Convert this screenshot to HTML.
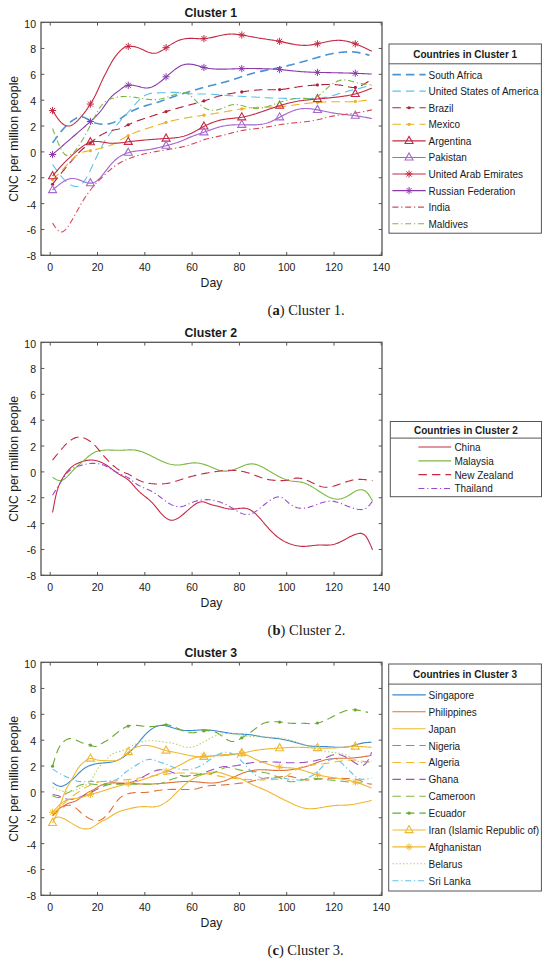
<!DOCTYPE html>
<html><head><meta charset="utf-8"><style>
html,body{margin:0;padding:0;background:#fff;}
svg{display:block;}
.s{font-family:"Liberation Sans",sans-serif;fill:#1a1a1a;}
.r{font-family:"Liberation Serif",serif;fill:#1a1a1a;}
</style></head><body>
<svg width="550" height="962" viewBox="0 0 550 962">
<defs><clipPath id="clip0"><rect x="41.0" y="22.3" width="341.0" height="233.0"/></clipPath><clipPath id="clip1"><rect x="41.0" y="342.3" width="341.0" height="233.0"/></clipPath><clipPath id="clip2"><rect x="41.0" y="662.3" width="341.0" height="233.0"/></clipPath></defs>
<rect width="550" height="962" fill="#fff"/>
<g clip-path="url(#clip0)">
<path d="M52.57,142.85 53.75,141.22 54.93,139.60 56.11,138.00 57.30,136.41 58.48,134.85 59.66,133.33 60.84,131.85 62.03,130.41 63.21,129.04 64.39,127.72 65.57,126.47 66.75,125.29 67.94,124.18 69.12,123.13 70.30,122.15 71.49,121.23 72.67,120.37 73.85,119.58 75.03,118.84 76.22,118.18 77.40,117.63 78.58,117.21 79.76,116.93 80.95,116.81 82.13,116.89 83.31,117.17 84.49,117.60 85.68,118.16 86.86,118.81 88.04,119.50 89.22,120.20 90.41,120.87 91.59,121.48 92.77,122.02 93.95,122.50 95.14,122.92 96.32,123.27 97.50,123.57 98.68,123.81 99.87,124.00 101.05,124.14 102.23,124.23 103.41,124.27 104.59,124.26 105.78,124.20 106.96,124.08 108.14,123.91 109.33,123.69 110.51,123.40 111.69,123.05 112.87,122.64 114.06,122.16 115.24,121.62 116.42,121.01 117.60,120.35 118.79,119.65 119.97,118.90 121.15,118.12 122.33,117.32 123.52,116.49 124.70,115.66 125.88,114.83 127.06,114.02 128.25,113.24 129.43,112.51 130.61,111.82 131.79,111.17 132.98,110.56 134.16,109.99 135.34,109.45 136.52,108.94 137.71,108.46 138.89,108.00 140.07,107.56 141.25,107.15 142.44,106.75 143.62,106.36 144.80,105.99 145.98,105.62 147.17,105.27 148.35,104.92 149.53,104.57 150.71,104.23 151.90,103.89 153.08,103.55 154.26,103.21 155.44,102.86 156.62,102.51 157.81,102.15 158.99,101.78 160.17,101.40 161.36,101.00 162.54,100.60 163.72,100.19 164.90,99.78 166.09,99.35 167.27,98.93 168.45,98.50 169.63,98.07 170.81,97.64 172.00,97.22 173.18,96.80 174.36,96.38 175.55,95.97 176.73,95.58 177.91,95.19 179.09,94.81 180.28,94.43 181.46,94.07 182.64,93.71 183.82,93.35 185.00,92.99 186.19,92.64 187.37,92.29 188.55,91.94 189.74,91.59 190.92,91.23 192.10,90.87 193.28,90.52 194.47,90.16 195.65,89.80 196.83,89.44 198.01,89.09 199.19,88.74 200.38,88.39 201.56,88.05 202.74,87.71 203.93,87.38 205.11,87.06 206.29,86.74 207.47,86.43 208.66,86.13 209.84,85.83 211.02,85.53 212.20,85.24 213.38,84.95 214.57,84.66 215.75,84.37 216.93,84.07 218.12,83.78 219.30,83.49 220.48,83.19 221.66,82.89 222.85,82.58 224.03,82.27 225.21,81.95 226.39,81.62 227.58,81.28 228.76,80.94 229.94,80.58 231.12,80.22 232.31,79.85 233.49,79.46 234.67,79.08 235.85,78.68 237.04,78.29 238.22,77.89 239.40,77.49 240.58,77.09 241.77,76.69 242.95,76.29 244.13,75.90 245.31,75.52 246.50,75.14 247.68,74.77 248.86,74.41 250.04,74.06 251.23,73.72 252.41,73.40 253.59,73.08 254.77,72.78 255.96,72.48 257.14,72.20 258.32,71.92 259.50,71.65 260.69,71.39 261.87,71.13 263.05,70.88 264.23,70.63 265.42,70.39 266.60,70.15 267.78,69.91 268.96,69.67 270.15,69.44 271.33,69.20 272.51,68.97 273.69,68.73 274.88,68.50 276.06,68.26 277.24,68.01 278.42,67.77 279.61,67.52 280.79,67.26 281.97,67.00 283.15,66.74 284.34,66.47 285.52,66.19 286.70,65.91 287.88,65.63 289.06,65.34 290.25,65.05 291.43,64.75 292.61,64.45 293.80,64.14 294.98,63.83 296.16,63.52 297.34,63.21 298.53,62.89 299.71,62.57 300.89,62.24 302.07,61.91 303.26,61.58 304.44,61.25 305.62,60.91 306.80,60.57 307.99,60.23 309.17,59.89 310.35,59.55 311.53,59.20 312.72,58.85 313.90,58.51 315.08,58.16 316.26,57.81 317.44,57.46 318.63,57.11 319.81,56.77 320.99,56.43 322.18,56.10 323.36,55.77 324.54,55.45 325.72,55.14 326.91,54.84 328.09,54.55 329.27,54.28 330.45,54.02 331.63,53.77 332.82,53.54 334.00,53.32 335.18,53.12 336.37,52.93 337.55,52.75 338.73,52.59 339.91,52.44 341.10,52.31 342.28,52.19 343.46,52.08 344.64,51.99 345.82,51.91 347.01,51.85 348.19,51.81 349.37,51.79 350.56,51.79 351.74,51.82 352.92,51.88 354.10,51.96 355.29,52.08 356.47,52.23 357.65,52.41 358.83,52.62 360.02,52.86 361.20,53.12 362.38,53.39 363.56,53.69 364.75,54.00 365.93,54.32 367.11,54.64 368.29,54.98 369.48,55.31" fill="none" stroke="#4a94d4" stroke-width="1.6" stroke-dasharray="8.5 5" stroke-linejoin="round"/>
<path d="M52.57,164.44 53.75,166.14 54.93,167.84 56.11,169.51 57.30,171.15 58.48,172.75 59.66,174.30 60.84,175.79 62.03,177.21 63.21,178.55 64.39,179.81 65.57,180.97 66.75,182.04 67.94,183.00 69.12,183.86 70.30,184.62 71.49,185.25 72.67,185.77 73.85,186.16 75.03,186.43 76.22,186.53 77.40,186.46 78.58,186.18 79.76,185.66 80.95,184.87 82.13,183.81 83.31,182.47 84.49,180.89 85.68,179.09 86.86,177.09 88.04,174.92 89.22,172.59 90.41,170.13 91.59,167.58 92.77,164.99 93.95,162.40 95.14,159.86 96.32,157.39 97.50,155.02 98.68,152.72 99.87,150.44 101.05,148.15 102.23,145.84 103.41,143.57 104.59,141.43 105.78,139.48 106.96,137.70 108.14,136.06 109.33,134.51 110.51,133.01 111.69,131.52 112.87,130.02 114.06,128.52 115.24,127.02 116.42,125.54 117.60,124.08 118.79,122.65 119.97,121.26 121.15,119.91 122.33,118.59 123.52,117.31 124.70,116.04 125.88,114.77 127.06,113.51 128.25,112.23 129.43,110.92 130.61,109.59 131.79,108.23 132.98,106.85 134.16,105.47 135.34,104.11 136.52,102.78 137.71,101.49 138.89,100.26 140.07,99.11 141.25,98.04 142.44,97.08 143.62,96.24 144.80,95.51 145.98,94.90 147.17,94.40 148.35,93.98 149.53,93.65 150.71,93.39 151.90,93.20 153.08,93.06 154.26,92.97 155.44,92.90 156.62,92.87 157.81,92.84 158.99,92.83 160.17,92.80 161.36,92.77 162.54,92.73 163.72,92.68 164.90,92.62 166.09,92.57 167.27,92.51 168.45,92.46 169.63,92.42 170.81,92.38 172.00,92.36 173.18,92.35 174.36,92.36 175.55,92.38 176.73,92.43 177.91,92.51 179.09,92.60 180.28,92.71 181.46,92.84 182.64,92.97 183.82,93.10 185.00,93.24 186.19,93.37 187.37,93.49 188.55,93.60 189.74,93.70 190.92,93.78 192.10,93.83 193.28,93.88 194.47,93.91 195.65,93.93 196.83,93.94 198.01,93.94 199.19,93.94 200.38,93.95 201.56,93.95 202.74,93.96 203.93,93.97 205.11,94.00 206.29,94.03 207.47,94.07 208.66,94.12 209.84,94.18 211.02,94.25 212.20,94.32 213.38,94.39 214.57,94.47 215.75,94.56 216.93,94.64 218.12,94.73 219.30,94.83 220.48,94.92 221.66,95.02 222.85,95.12 224.03,95.21 225.21,95.31 226.39,95.40 227.58,95.49 228.76,95.58 229.94,95.67 231.12,95.75 232.31,95.83 233.49,95.91 234.67,95.99 235.85,96.06 237.04,96.13 238.22,96.19 239.40,96.26 240.58,96.32 241.77,96.39 242.95,96.45 244.13,96.51 245.31,96.57 246.50,96.63 247.68,96.69 248.86,96.76 250.04,96.82 251.23,96.88 252.41,96.95 253.59,97.01 254.77,97.07 255.96,97.14 257.14,97.21 258.32,97.27 259.50,97.34 260.69,97.40 261.87,97.46 263.05,97.53 264.23,97.59 265.42,97.65 266.60,97.71 267.78,97.77 268.96,97.83 270.15,97.88 271.33,97.93 272.51,97.98 273.69,98.03 274.88,98.08 276.06,98.12 277.24,98.16 278.42,98.20 279.61,98.23 280.79,98.27 281.97,98.29 283.15,98.32 284.34,98.34 285.52,98.36 286.70,98.38 287.88,98.39 289.06,98.40 290.25,98.42 291.43,98.43 292.61,98.44 293.80,98.44 294.98,98.45 296.16,98.46 297.34,98.46 298.53,98.47 299.71,98.48 300.89,98.48 302.07,98.49 303.26,98.50 304.44,98.51 305.62,98.52 306.80,98.52 307.99,98.53 309.17,98.52 310.35,98.52 311.53,98.50 312.72,98.47 313.90,98.43 315.08,98.38 316.26,98.32 317.44,98.24 318.63,98.14 319.81,98.03 320.99,97.90 322.18,97.75 323.36,97.58 324.54,97.39 325.72,97.18 326.91,96.95 328.09,96.69 329.27,96.42 330.45,96.13 331.63,95.83 332.82,95.51 334.00,95.18 335.18,94.85 336.37,94.50 337.55,94.15 338.73,93.80 339.91,93.45 341.10,93.10 342.28,92.76 343.46,92.42 344.64,92.09 345.82,91.77 347.01,91.46 348.19,91.15 349.37,90.84 350.56,90.54 351.74,90.24 352.92,89.95 354.10,89.65 355.29,89.36 356.47,89.06 357.65,88.76 358.83,88.46 360.02,88.16 361.20,87.85 362.38,87.53 363.56,87.21 364.75,86.89 365.93,86.57 367.11,86.24 368.29,85.91 369.48,85.58 370.66,85.25 371.84,84.92" fill="none" stroke="#5cc3ec" stroke-width="1.1" stroke-dasharray="8.5 5" stroke-linejoin="round"/>
<path d="M52.57,184.23 53.75,182.70 54.93,181.18 56.11,179.66 57.30,178.15 58.48,176.66 59.66,175.17 60.84,173.71 62.03,172.25 63.21,170.81 64.39,169.38 65.57,167.96 66.75,166.55 67.94,165.14 69.12,163.73 70.30,162.33 71.49,160.93 72.67,159.54 73.85,158.16 75.03,156.81 76.22,155.48 77.40,154.20 78.58,152.95 79.76,151.75 80.95,150.61 82.13,149.52 83.31,148.49 84.49,147.50 85.68,146.54 86.86,145.61 88.04,144.69 89.22,143.77 90.41,142.85 91.59,141.92 92.77,140.98 93.95,140.04 95.14,139.12 96.32,138.23 97.50,137.36 98.68,136.54 99.87,135.77 101.05,135.04 102.23,134.36 103.41,133.72 104.59,133.13 105.78,132.59 106.96,132.09 108.14,131.64 109.33,131.24 110.51,130.88 111.69,130.58 112.87,130.31 114.06,130.07 115.24,129.83 116.42,129.58 117.60,129.31 118.79,129.00 119.97,128.63 121.15,128.18 122.33,127.68 123.52,127.12 124.70,126.54 125.88,125.94 127.06,125.34 128.25,124.75 129.43,124.18 130.61,123.64 131.79,123.12 132.98,122.63 134.16,122.15 135.34,121.69 136.52,121.24 137.71,120.81 138.89,120.39 140.07,119.97 141.25,119.57 142.44,119.17 143.62,118.77 144.80,118.37 145.98,117.98 147.17,117.58 148.35,117.19 149.53,116.80 150.71,116.42 151.90,116.03 153.08,115.65 154.26,115.27 155.44,114.89 156.62,114.51 157.81,114.13 158.99,113.76 160.17,113.39 161.36,113.02 162.54,112.65 163.72,112.29 164.90,111.93 166.09,111.57 167.27,111.22 168.45,110.86 169.63,110.51 170.81,110.16 172.00,109.82 173.18,109.47 174.36,109.13 175.55,108.80 176.73,108.46 177.91,108.13 179.09,107.79 180.28,107.46 181.46,107.14 182.64,106.81 183.82,106.49 185.00,106.17 186.19,105.85 187.37,105.53 188.55,105.21 189.74,104.90 190.92,104.58 192.10,104.27 193.28,103.96 194.47,103.65 195.65,103.33 196.83,103.01 198.01,102.69 199.19,102.36 200.38,102.02 201.56,101.67 202.74,101.32 203.93,100.96 205.11,100.58 206.29,100.20 207.47,99.80 208.66,99.41 209.84,99.01 211.02,98.61 212.20,98.21 213.38,97.82 214.57,97.43 215.75,97.05 216.93,96.68 218.12,96.32 219.30,95.98 220.48,95.65 221.66,95.35 222.85,95.06 224.03,94.79 225.21,94.53 226.39,94.29 227.58,94.06 228.76,93.84 229.94,93.64 231.12,93.44 232.31,93.25 233.49,93.07 234.67,92.90 235.85,92.73 237.04,92.56 238.22,92.40 239.40,92.23 240.58,92.07 241.77,91.90 242.95,91.74 244.13,91.57 245.31,91.40 246.50,91.24 247.68,91.07 248.86,90.91 250.04,90.76 251.23,90.61 252.41,90.47 253.59,90.34 254.77,90.22 255.96,90.11 257.14,90.01 258.32,89.93 259.50,89.86 260.69,89.81 261.87,89.77 263.05,89.75 264.23,89.74 265.42,89.74 266.60,89.74 267.78,89.75 268.96,89.76 270.15,89.77 271.33,89.78 272.51,89.78 273.69,89.78 274.88,89.77 276.06,89.74 277.24,89.70 278.42,89.65 279.61,89.58 280.79,89.48 281.97,89.37 283.15,89.25 284.34,89.10 285.52,88.94 286.70,88.78 287.88,88.60 289.06,88.41 290.25,88.22 291.43,88.02 292.61,87.82 293.80,87.61 294.98,87.41 296.16,87.21 297.34,87.02 298.53,86.83 299.71,86.65 300.89,86.47 302.07,86.31 303.26,86.16 304.44,86.02 305.62,85.89 306.80,85.77 307.99,85.65 309.17,85.54 310.35,85.44 311.53,85.34 312.72,85.25 313.90,85.16 315.08,85.08 316.26,85.00 317.44,84.92 318.63,84.85 319.81,84.77 320.99,84.70 322.18,84.64 323.36,84.58 324.54,84.53 325.72,84.49 326.91,84.45 328.09,84.43 329.27,84.42 330.45,84.43 331.63,84.45 332.82,84.48 334.00,84.53 335.18,84.60 336.37,84.69 337.55,84.80 338.73,84.93 339.91,85.09 341.10,85.26 342.28,85.47 343.46,85.70 344.64,85.95 345.82,86.22 347.01,86.50 348.19,86.76 349.37,87.00 350.56,87.20 351.74,87.35 352.92,87.44 354.10,87.45 355.29,87.38 356.47,87.21 357.65,86.94 358.83,86.59 360.02,86.17 361.20,85.66 362.38,85.10 363.56,84.47 364.75,83.80 365.93,83.08 367.11,82.33 368.29,81.55 369.48,80.75 370.66,79.93 371.84,79.10" fill="none" stroke="#b0203c" stroke-width="1.1" stroke-dasharray="8.5 5" stroke-linejoin="round"/>
<circle cx="52.57" cy="184.23" r="1.6" fill="#b0203c"/>
<circle cx="90.41" cy="142.85" r="1.6" fill="#b0203c"/>
<circle cx="128.25" cy="124.75" r="1.6" fill="#b0203c"/>
<circle cx="166.09" cy="111.58" r="1.6" fill="#b0203c"/>
<circle cx="203.93" cy="100.96" r="1.6" fill="#b0203c"/>
<circle cx="241.77" cy="91.90" r="1.6" fill="#b0203c"/>
<circle cx="279.61" cy="89.58" r="1.6" fill="#b0203c"/>
<circle cx="317.44" cy="84.92" r="1.6" fill="#b0203c"/>
<circle cx="355.29" cy="87.38" r="1.6" fill="#b0203c"/>
<path d="M52.57,179.70 53.75,178.57 54.93,177.44 56.11,176.30 57.30,175.15 58.48,173.97 59.66,172.77 60.84,171.54 62.03,170.28 63.21,169.00 64.39,167.69 65.57,166.38 66.75,165.07 67.94,163.77 69.12,162.49 70.30,161.24 71.49,160.04 72.67,158.88 73.85,157.79 75.03,156.76 76.22,155.80 77.40,154.93 78.58,154.13 79.76,153.43 80.95,152.83 82.13,152.33 83.31,151.93 84.49,151.61 85.68,151.36 86.86,151.16 88.04,150.99 89.22,150.82 90.41,150.65 91.59,150.44 92.77,150.21 93.95,149.95 95.14,149.67 96.32,149.38 97.50,149.08 98.68,148.77 99.87,148.46 101.05,148.15 102.23,147.85 103.41,147.55 104.59,147.23 105.78,146.91 106.96,146.55 108.14,146.16 109.33,145.73 110.51,145.26 111.69,144.73 112.87,144.17 114.06,143.58 115.24,142.96 116.42,142.31 117.60,141.65 118.79,140.97 119.97,140.28 121.15,139.59 122.33,138.89 123.52,138.21 124.70,137.53 125.88,136.87 127.06,136.23 128.25,135.61 129.43,135.02 130.61,134.46 131.79,133.92 132.98,133.41 134.16,132.92 135.34,132.45 136.52,132.00 137.71,131.56 138.89,131.14 140.07,130.73 141.25,130.33 142.44,129.94 143.62,129.55 144.80,129.17 145.98,128.79 147.17,128.41 148.35,128.03 149.53,127.65 150.71,127.26 151.90,126.88 153.08,126.49 154.26,126.10 155.44,125.72 156.62,125.33 157.81,124.95 158.99,124.58 160.17,124.20 161.36,123.83 162.54,123.47 163.72,123.11 164.90,122.76 166.09,122.42 167.27,122.09 168.45,121.77 169.63,121.46 170.81,121.15 172.00,120.85 173.18,120.57 174.36,120.29 175.55,120.01 176.73,119.75 177.91,119.49 179.09,119.24 180.28,119.00 181.46,118.77 182.64,118.54 183.82,118.31 185.00,118.10 186.19,117.89 187.37,117.68 188.55,117.48 189.74,117.29 190.92,117.10 192.10,116.91 193.28,116.73 194.47,116.55 195.65,116.38 196.83,116.21 198.01,116.03 199.19,115.86 200.38,115.69 201.56,115.52 202.74,115.35 203.93,115.18 205.11,115.00 206.29,114.83 207.47,114.65 208.66,114.47 209.84,114.28 211.02,114.10 212.20,113.91 213.38,113.72 214.57,113.53 215.75,113.33 216.93,113.14 218.12,112.94 219.30,112.74 220.48,112.54 221.66,112.33 222.85,112.13 224.03,111.92 225.21,111.71 226.39,111.50 227.58,111.30 228.76,111.09 229.94,110.88 231.12,110.67 232.31,110.47 233.49,110.27 234.67,110.07 235.85,109.88 237.04,109.69 238.22,109.50 239.40,109.32 240.58,109.14 241.77,108.97 242.95,108.81 244.13,108.65 245.31,108.50 246.50,108.36 247.68,108.22 248.86,108.10 250.04,107.98 251.23,107.86 252.41,107.76 253.59,107.66 254.77,107.57 255.96,107.49 257.14,107.42 258.32,107.36 259.50,107.31 260.69,107.27 261.87,107.23 263.05,107.20 264.23,107.18 265.42,107.16 266.60,107.15 267.78,107.14 268.96,107.12 270.15,107.11 271.33,107.09 272.51,107.07 273.69,107.04 274.88,107.01 276.06,106.97 277.24,106.91 278.42,106.85 279.61,106.77 280.79,106.68 281.97,106.58 283.15,106.47 284.34,106.34 285.52,106.20 286.70,106.06 287.88,105.91 289.06,105.75 290.25,105.59 291.43,105.42 292.61,105.25 293.80,105.08 294.98,104.90 296.16,104.73 297.34,104.56 298.53,104.39 299.71,104.22 300.89,104.06 302.07,103.90 303.26,103.75 304.44,103.61 305.62,103.47 306.80,103.34 307.99,103.21 309.17,103.09 310.35,102.97 311.53,102.86 312.72,102.75 313.90,102.65 315.08,102.55 316.26,102.46 317.44,102.38 318.63,102.30 319.81,102.22 320.99,102.15 322.18,102.09 323.36,102.03 324.54,101.97 325.72,101.92 326.91,101.88 328.09,101.84 329.27,101.81 330.45,101.78 331.63,101.76 332.82,101.74 334.00,101.73 335.18,101.73 336.37,101.72 337.55,101.73 338.73,101.73 339.91,101.74 341.10,101.75 342.28,101.75 343.46,101.76 344.64,101.76 345.82,101.75 347.01,101.75 348.19,101.73 349.37,101.71 350.56,101.69 351.74,101.65 352.92,101.60 354.10,101.54 355.29,101.47 356.47,101.39 357.65,101.29 358.83,101.19 360.02,101.07 361.20,100.94 362.38,100.81 363.56,100.67 364.75,100.52 365.93,100.36 367.11,100.20 368.29,100.04 369.48,99.87 370.66,99.70 371.84,99.53" fill="none" stroke="#edb120" stroke-width="1.1" stroke-dasharray="8.5 5" stroke-linejoin="round"/>
<circle cx="52.57" cy="179.70" r="1.6" fill="#edb120"/>
<circle cx="90.41" cy="150.66" r="1.6" fill="#edb120"/>
<circle cx="128.25" cy="135.61" r="1.6" fill="#edb120"/>
<circle cx="166.09" cy="122.44" r="1.6" fill="#edb120"/>
<circle cx="203.93" cy="115.18" r="1.6" fill="#edb120"/>
<circle cx="241.77" cy="108.97" r="1.6" fill="#edb120"/>
<circle cx="279.61" cy="106.77" r="1.6" fill="#edb120"/>
<circle cx="317.44" cy="102.38" r="1.6" fill="#edb120"/>
<circle cx="355.29" cy="101.47" r="1.6" fill="#edb120"/>
<path d="M52.57,176.08 53.75,174.64 54.93,173.21 56.11,171.79 57.30,170.39 58.48,169.02 59.66,167.67 60.84,166.37 62.03,165.10 63.21,163.86 64.39,162.65 65.57,161.47 66.75,160.31 67.94,159.16 69.12,158.04 70.30,156.92 71.49,155.82 72.67,154.72 73.85,153.64 75.03,152.57 76.22,151.52 77.40,150.50 78.58,149.50 79.76,148.53 80.95,147.61 82.13,146.72 83.31,145.87 84.49,145.09 85.68,144.36 86.86,143.70 88.04,143.11 89.22,142.61 90.41,142.20 91.59,141.89 92.77,141.66 93.95,141.52 95.14,141.44 96.32,141.44 97.50,141.48 98.68,141.57 99.87,141.71 101.05,141.87 102.23,142.05 103.41,142.24 104.59,142.44 105.78,142.64 106.96,142.82 108.14,142.98 109.33,143.11 110.51,143.20 111.69,143.26 112.87,143.28 114.06,143.27 115.24,143.24 116.42,143.18 117.60,143.10 118.79,143.00 119.97,142.88 121.15,142.75 122.33,142.61 123.52,142.45 124.70,142.30 125.88,142.13 127.06,141.97 128.25,141.81 129.43,141.66 130.61,141.51 131.79,141.37 132.98,141.23 134.16,141.09 135.34,140.96 136.52,140.83 137.71,140.70 138.89,140.58 140.07,140.47 141.25,140.35 142.44,140.24 143.62,140.13 144.80,140.03 145.98,139.93 147.17,139.82 148.35,139.73 149.53,139.63 150.71,139.54 151.90,139.44 153.08,139.35 154.26,139.26 155.44,139.18 156.62,139.09 157.81,139.01 158.99,138.93 160.17,138.85 161.36,138.77 162.54,138.70 163.72,138.62 164.90,138.55 166.09,138.48 167.27,138.41 168.45,138.34 169.63,138.27 170.81,138.19 172.00,138.11 173.18,138.01 174.36,137.90 175.55,137.77 176.73,137.62 177.91,137.45 179.09,137.26 180.28,137.03 181.46,136.77 182.64,136.49 183.82,136.17 185.00,135.81 186.19,135.42 187.37,135.00 188.55,134.53 189.74,134.03 190.92,133.49 192.10,132.92 193.28,132.32 194.47,131.69 195.65,131.04 196.83,130.38 198.01,129.72 199.19,129.04 200.38,128.37 201.56,127.71 202.74,127.06 203.93,126.43 205.11,125.82 206.29,125.23 207.47,124.67 208.66,124.13 209.84,123.61 211.02,123.12 212.20,122.65 213.38,122.21 214.57,121.79 215.75,121.40 216.93,121.03 218.12,120.69 219.30,120.38 220.48,120.09 221.66,119.83 222.85,119.60 224.03,119.39 225.21,119.21 226.39,119.04 227.58,118.89 228.76,118.75 229.94,118.62 231.12,118.50 232.31,118.38 233.49,118.26 234.67,118.14 235.85,118.02 237.04,117.89 238.22,117.75 239.40,117.60 240.58,117.43 241.77,117.25 242.95,117.04 244.13,116.81 245.31,116.57 246.50,116.30 247.68,116.02 248.86,115.72 250.04,115.41 251.23,115.08 252.41,114.74 253.59,114.39 254.77,114.03 255.96,113.65 257.14,113.27 258.32,112.89 259.50,112.49 260.69,112.09 261.87,111.69 263.05,111.29 264.23,110.88 265.42,110.47 266.60,110.05 267.78,109.64 268.96,109.23 270.15,108.82 271.33,108.41 272.51,108.01 273.69,107.61 274.88,107.21 276.06,106.82 277.24,106.43 278.42,106.06 279.61,105.68 280.79,105.32 281.97,104.97 283.15,104.62 284.34,104.29 285.52,103.96 286.70,103.64 287.88,103.34 289.06,103.04 290.25,102.75 291.43,102.48 292.61,102.21 293.80,101.96 294.98,101.72 296.16,101.49 297.34,101.27 298.53,101.07 299.71,100.88 300.89,100.70 302.07,100.53 303.26,100.38 304.44,100.23 305.62,100.10 306.80,99.97 307.99,99.85 309.17,99.74 310.35,99.63 311.53,99.53 312.72,99.42 313.90,99.32 315.08,99.22 316.26,99.12 317.44,99.02 318.63,98.91 319.81,98.80 320.99,98.69 322.18,98.57 323.36,98.45 324.54,98.33 325.72,98.21 326.91,98.09 328.09,97.96 329.27,97.84 330.45,97.71 331.63,97.59 332.82,97.46 334.00,97.34 335.18,97.21 336.37,97.08 337.55,96.96 338.73,96.83 339.91,96.69 341.10,96.55 342.28,96.40 343.46,96.25 344.64,96.08 345.82,95.91 347.01,95.72 348.19,95.52 349.37,95.30 350.56,95.07 351.74,94.83 352.92,94.56 354.10,94.28 355.29,93.97 356.47,93.65 357.65,93.30 358.83,92.94 360.02,92.56 361.20,92.16 362.38,91.75 363.56,91.33 364.75,90.90 365.93,90.45 367.11,90.00 368.29,89.55 369.48,89.09 370.66,88.62 371.84,88.16" fill="none" stroke="#c42a44" stroke-width="1.1" stroke-linejoin="round"/>
<path d="M52.57,171.58L56.57,178.68L48.57,178.68Z" fill="none" stroke="#c42a44" stroke-width="1.1" stroke-linejoin="miter"/>
<path d="M90.41,137.70L94.41,144.80L86.41,144.80Z" fill="none" stroke="#c42a44" stroke-width="1.1" stroke-linejoin="miter"/>
<path d="M128.25,137.31L132.25,144.41L124.25,144.41Z" fill="none" stroke="#c42a44" stroke-width="1.1" stroke-linejoin="miter"/>
<path d="M166.09,133.99L170.09,141.09L162.09,141.09Z" fill="none" stroke="#c42a44" stroke-width="1.1" stroke-linejoin="miter"/>
<path d="M203.93,121.93L207.93,129.03L199.93,129.03Z" fill="none" stroke="#c42a44" stroke-width="1.1" stroke-linejoin="miter"/>
<path d="M241.77,112.75L245.77,119.85L237.77,119.85Z" fill="none" stroke="#c42a44" stroke-width="1.1" stroke-linejoin="miter"/>
<path d="M279.61,101.19L283.61,108.29L275.61,108.29Z" fill="none" stroke="#c42a44" stroke-width="1.1" stroke-linejoin="miter"/>
<path d="M317.44,94.52L321.44,101.62L313.44,101.62Z" fill="none" stroke="#c42a44" stroke-width="1.1" stroke-linejoin="miter"/>
<path d="M355.29,89.47L359.29,96.57L351.29,96.57Z" fill="none" stroke="#c42a44" stroke-width="1.1" stroke-linejoin="miter"/>
<path d="M52.57,190.04 53.75,189.04 54.93,188.04 56.11,187.05 57.30,186.09 58.48,185.14 59.66,184.23 60.84,183.35 62.03,182.51 63.21,181.73 64.39,181.01 65.57,180.36 66.75,179.80 67.94,179.32 69.12,178.94 70.30,178.67 71.49,178.51 72.67,178.48 73.85,178.55 75.03,178.72 76.22,178.97 77.40,179.30 78.58,179.67 79.76,180.10 80.95,180.55 82.13,181.02 83.31,181.49 84.49,181.94 85.68,182.35 86.86,182.70 88.04,182.97 89.22,183.14 90.41,183.19 91.59,183.10 92.77,182.87 93.95,182.48 95.14,181.94 96.32,181.23 97.50,180.35 98.68,179.30 99.87,178.10 101.05,176.78 102.23,175.36 103.41,173.88 104.59,172.36 105.78,170.83 106.96,169.30 108.14,167.81 109.33,166.36 110.51,164.95 111.69,163.60 112.87,162.32 114.06,161.12 115.24,160.00 116.42,158.97 117.60,158.03 118.79,157.17 119.97,156.39 121.15,155.68 122.33,155.04 123.52,154.46 124.70,153.94 125.88,153.47 127.06,153.05 128.25,152.68 129.43,152.34 130.61,152.05 131.79,151.79 132.98,151.55 134.16,151.35 135.34,151.17 136.52,151.00 137.71,150.86 138.89,150.72 140.07,150.60 141.25,150.48 142.44,150.36 143.62,150.24 144.80,150.11 145.98,149.98 147.17,149.83 148.35,149.67 149.53,149.49 150.71,149.29 151.90,149.07 153.08,148.84 154.26,148.60 155.44,148.34 156.62,148.07 157.81,147.79 158.99,147.51 160.17,147.22 161.36,146.92 162.54,146.61 163.72,146.31 164.90,146.00 166.09,145.69 167.27,145.38 168.45,145.07 169.63,144.76 170.81,144.44 172.00,144.11 173.18,143.78 174.36,143.43 175.55,143.07 176.73,142.69 177.91,142.29 179.09,141.87 180.28,141.43 181.46,140.96 182.64,140.46 183.82,139.96 185.00,139.44 186.19,138.92 187.37,138.40 188.55,137.89 189.74,137.39 190.92,136.90 192.10,136.44 193.28,135.99 194.47,135.55 195.65,135.12 196.83,134.71 198.01,134.29 199.19,133.89 200.38,133.48 201.56,133.07 202.74,132.66 203.93,132.25 205.11,131.82 206.29,131.40 207.47,130.97 208.66,130.54 209.84,130.11 211.02,129.68 212.20,129.27 213.38,128.86 214.57,128.46 215.75,128.07 216.93,127.70 218.12,127.35 219.30,127.02 220.48,126.71 221.66,126.43 222.85,126.17 224.03,125.94 225.21,125.73 226.39,125.55 227.58,125.39 228.76,125.24 229.94,125.12 231.12,125.02 232.31,124.94 233.49,124.87 234.67,124.82 235.85,124.78 237.04,124.75 238.22,124.74 239.40,124.73 240.58,124.73 241.77,124.75 242.95,124.77 244.13,124.79 245.31,124.81 246.50,124.84 247.68,124.87 248.86,124.89 250.04,124.90 251.23,124.91 252.41,124.90 253.59,124.89 254.77,124.85 255.96,124.81 257.14,124.74 258.32,124.65 259.50,124.54 260.69,124.40 261.87,124.24 263.05,124.04 264.23,123.80 265.42,123.52 266.60,123.20 267.78,122.82 268.96,122.39 270.15,121.93 271.33,121.42 272.51,120.89 273.69,120.32 274.88,119.73 276.06,119.13 277.24,118.51 278.42,117.88 279.61,117.25 280.79,116.62 281.97,115.99 283.15,115.37 284.34,114.76 285.52,114.16 286.70,113.58 287.88,113.01 289.06,112.47 290.25,111.95 291.43,111.45 292.61,110.99 293.80,110.55 294.98,110.16 296.16,109.80 297.34,109.48 298.53,109.20 299.71,108.97 300.89,108.79 302.07,108.66 303.26,108.57 304.44,108.52 305.62,108.50 306.80,108.53 307.99,108.58 309.17,108.67 310.35,108.78 311.53,108.92 312.72,109.08 313.90,109.26 315.08,109.45 316.26,109.66 317.44,109.88 318.63,110.10 319.81,110.34 320.99,110.58 322.18,110.82 323.36,111.06 324.54,111.31 325.72,111.55 326.91,111.79 328.09,112.03 329.27,112.26 330.45,112.49 331.63,112.70 332.82,112.91 334.00,113.11 335.18,113.30 336.37,113.47 337.55,113.63 338.73,113.79 339.91,113.94 341.10,114.08 342.28,114.21 343.46,114.34 344.64,114.47 345.82,114.60 347.01,114.72 348.19,114.85 349.37,114.98 350.56,115.11 351.74,115.25 352.92,115.39 354.10,115.54 355.29,115.70 356.47,115.86 357.65,116.03 358.83,116.22 360.02,116.40 361.20,116.60 362.38,116.80 363.56,117.01 364.75,117.22 365.93,117.43 367.11,117.65 368.29,117.87 369.48,118.09 370.66,118.32 371.84,118.54" fill="none" stroke="#a468d0" stroke-width="1.15" stroke-linejoin="round"/>
<path d="M52.57,185.54L56.57,192.64L48.57,192.64Z" fill="none" stroke="#a468d0" stroke-width="1.1" stroke-linejoin="miter"/>
<path d="M90.41,178.69L94.41,185.79L86.41,185.79Z" fill="none" stroke="#a468d0" stroke-width="1.1" stroke-linejoin="miter"/>
<path d="M128.25,148.18L132.25,155.28L124.25,155.28Z" fill="none" stroke="#a468d0" stroke-width="1.1" stroke-linejoin="miter"/>
<path d="M166.09,141.17L170.09,148.27L162.09,148.27Z" fill="none" stroke="#a468d0" stroke-width="1.1" stroke-linejoin="miter"/>
<path d="M203.93,127.75L207.93,134.85L199.93,134.85Z" fill="none" stroke="#a468d0" stroke-width="1.1" stroke-linejoin="miter"/>
<path d="M241.77,120.25L245.77,127.35L237.77,127.35Z" fill="none" stroke="#a468d0" stroke-width="1.1" stroke-linejoin="miter"/>
<path d="M279.61,112.75L283.61,119.85L275.61,119.85Z" fill="none" stroke="#a468d0" stroke-width="1.1" stroke-linejoin="miter"/>
<path d="M317.44,105.38L321.44,112.48L313.44,112.48Z" fill="none" stroke="#a468d0" stroke-width="1.1" stroke-linejoin="miter"/>
<path d="M355.29,111.20L359.29,118.30L351.29,118.30Z" fill="none" stroke="#a468d0" stroke-width="1.1" stroke-linejoin="miter"/>
<path d="M52.57,110.52 53.75,112.41 54.93,114.27 56.11,116.08 57.30,117.80 58.48,119.40 59.66,120.87 60.84,122.17 62.03,123.29 63.21,124.23 64.39,124.99 65.57,125.55 66.75,125.91 67.94,126.07 69.12,126.01 70.30,125.75 71.49,125.29 72.67,124.66 73.85,123.87 75.03,122.95 76.22,121.91 77.40,120.78 78.58,119.58 79.76,118.31 80.95,116.98 82.13,115.59 83.31,114.15 84.49,112.63 85.68,111.06 86.86,109.41 88.04,107.70 89.22,105.91 90.41,104.06 91.59,102.13 92.77,100.10 93.95,97.97 95.14,95.72 96.32,93.33 97.50,90.79 98.68,88.16 99.87,85.49 101.05,82.85 102.23,80.29 103.41,77.85 104.59,75.49 105.78,73.18 106.96,70.90 108.14,68.62 109.33,66.36 110.51,64.16 111.69,62.06 112.87,60.11 114.06,58.31 115.24,56.66 116.42,55.13 117.60,53.69 118.79,52.32 119.97,51.02 121.15,49.83 122.33,48.79 123.52,47.94 124.70,47.31 125.88,46.86 127.06,46.57 128.25,46.39 129.43,46.30 130.61,46.28 131.79,46.34 132.98,46.46 134.16,46.65 135.34,46.90 136.52,47.21 137.71,47.57 138.89,47.99 140.07,48.46 141.25,48.97 142.44,49.51 143.62,50.07 144.80,50.63 145.98,51.17 147.17,51.69 148.35,52.16 149.53,52.57 150.71,52.90 151.90,53.14 153.08,53.28 154.26,53.30 155.44,53.18 156.62,52.92 157.81,52.54 158.99,52.06 160.17,51.48 161.36,50.82 162.54,50.11 163.72,49.35 164.90,48.55 166.09,47.75 167.27,46.94 168.45,46.15 169.63,45.37 170.81,44.61 172.00,43.87 173.18,43.17 174.36,42.50 175.55,41.87 176.73,41.28 177.91,40.75 179.09,40.27 180.28,39.85 181.46,39.49 182.64,39.19 183.82,38.94 185.00,38.74 186.19,38.59 187.37,38.49 188.55,38.42 189.74,38.38 190.92,38.37 192.10,38.39 193.28,38.42 194.47,38.47 195.65,38.53 196.83,38.58 198.01,38.63 199.19,38.68 200.38,38.70 201.56,38.71 202.74,38.69 203.93,38.63 205.11,38.54 206.29,38.42 207.47,38.26 208.66,38.07 209.84,37.87 211.02,37.64 212.20,37.39 213.38,37.13 214.57,36.86 215.75,36.59 216.93,36.31 218.12,36.03 219.30,35.76 220.48,35.49 221.66,35.24 222.85,35.00 224.03,34.78 225.21,34.59 226.39,34.42 227.58,34.28 228.76,34.17 229.94,34.10 231.12,34.06 232.31,34.07 233.49,34.10 234.67,34.17 235.85,34.26 237.04,34.37 238.22,34.51 239.40,34.66 240.58,34.83 241.77,35.01 242.95,35.20 244.13,35.40 245.31,35.60 246.50,35.81 247.68,36.02 248.86,36.24 250.04,36.46 251.23,36.68 252.41,36.90 253.59,37.12 254.77,37.33 255.96,37.55 257.14,37.76 258.32,37.97 259.50,38.17 260.69,38.36 261.87,38.55 263.05,38.73 264.23,38.91 265.42,39.08 266.60,39.26 267.78,39.43 268.96,39.60 270.15,39.77 271.33,39.95 272.51,40.13 273.69,40.31 274.88,40.50 276.06,40.70 277.24,40.91 278.42,41.12 279.61,41.35 280.79,41.59 281.97,41.83 283.15,42.09 284.34,42.34 285.52,42.61 286.70,42.87 287.88,43.13 289.06,43.39 290.25,43.64 291.43,43.88 292.61,44.11 293.80,44.33 294.98,44.53 296.16,44.72 297.34,44.89 298.53,45.04 299.71,45.16 300.89,45.26 302.07,45.32 303.26,45.36 304.44,45.37 305.62,45.34 306.80,45.29 307.99,45.21 309.17,45.11 310.35,44.98 311.53,44.83 312.72,44.66 313.90,44.47 315.08,44.26 316.26,44.04 317.44,43.81 318.63,43.56 319.81,43.30 320.99,43.04 322.18,42.77 323.36,42.50 324.54,42.23 325.72,41.97 326.91,41.72 328.09,41.48 329.27,41.26 330.45,41.05 331.63,40.86 332.82,40.69 334.00,40.55 335.18,40.44 336.37,40.37 337.55,40.32 338.73,40.32 339.91,40.35 341.10,40.42 342.28,40.53 343.46,40.68 344.64,40.86 345.82,41.07 347.01,41.32 348.19,41.59 349.37,41.90 350.56,42.23 351.74,42.59 352.92,42.97 354.10,43.38 355.29,43.81 356.47,44.25 357.65,44.72 358.83,45.21 360.02,45.71 361.20,46.23 362.38,46.76 363.56,47.30 364.75,47.85 365.93,48.42 367.11,48.98 368.29,49.56 369.48,50.14 370.66,50.72 371.84,51.30" fill="none" stroke="#c42a44" stroke-width="1.1" stroke-linejoin="round"/>
<path d="M48.97,110.52L56.17,110.52M50.02,107.98L55.11,113.07M52.57,106.92L52.57,114.12M55.11,107.98L50.02,113.07" stroke="#c42a44" stroke-width="1"/>
<path d="M86.81,104.06L94.00,104.06M87.86,101.51L92.95,106.60M90.41,100.46L90.41,107.66M92.95,101.51L87.86,106.60" stroke="#c42a44" stroke-width="1"/>
<path d="M124.65,46.39L131.84,46.39M125.70,43.85L130.79,48.94M128.25,42.79L128.25,49.99M130.79,43.85L125.70,48.94" stroke="#c42a44" stroke-width="1"/>
<path d="M162.49,47.66L169.69,47.66M163.54,45.12L168.63,50.21M166.09,44.06L166.09,51.26M168.63,45.12L163.54,50.21" stroke="#c42a44" stroke-width="1"/>
<path d="M200.33,38.63L207.53,38.63M201.38,36.09L206.47,41.18M203.93,35.03L203.93,42.23M206.47,36.09L201.38,41.18" stroke="#c42a44" stroke-width="1"/>
<path d="M238.17,35.01L245.37,35.01M239.22,32.47L244.31,37.56M241.77,31.41L241.77,38.61M244.31,32.47L239.22,37.56" stroke="#c42a44" stroke-width="1"/>
<path d="M276.00,41.35L283.21,41.35M277.06,38.80L282.15,43.89M279.61,37.75L279.61,44.95M282.15,38.80L277.06,43.89" stroke="#c42a44" stroke-width="1"/>
<path d="M313.84,43.81L321.05,43.81M314.90,41.26L319.99,46.35M317.44,40.21L317.44,47.41M319.99,41.26L314.90,46.35" stroke="#c42a44" stroke-width="1"/>
<path d="M351.69,43.81L358.89,43.81M352.74,41.26L357.83,46.35M355.29,40.21L355.29,47.41M357.83,41.26L352.74,46.35" stroke="#c42a44" stroke-width="1"/>
<path d="M52.57,154.49 53.75,153.46 54.93,152.43 56.11,151.40 57.30,150.37 58.48,149.35 59.66,148.32 60.84,147.29 62.03,146.26 63.21,145.24 64.39,144.21 65.57,143.19 66.75,142.16 67.94,141.14 69.12,140.11 70.30,139.09 71.49,138.06 72.67,137.04 73.85,136.02 75.03,135.00 76.22,133.98 77.40,132.95 78.58,131.93 79.76,130.90 80.95,129.87 82.13,128.84 83.31,127.81 84.49,126.77 85.68,125.73 86.86,124.68 88.04,123.63 89.22,122.58 90.41,121.51 91.59,120.45 92.77,119.36 93.95,118.25 95.14,117.11 96.32,115.92 97.50,114.68 98.68,113.38 99.87,112.00 101.05,110.54 102.23,108.99 103.41,107.35 104.59,105.67 105.78,103.98 106.96,102.32 108.14,100.71 109.33,99.19 110.51,97.77 111.69,96.47 112.87,95.31 114.06,94.28 115.24,93.37 116.42,92.50 117.60,91.65 118.79,90.77 119.97,89.85 121.15,88.93 122.33,88.05 123.52,87.25 124.70,86.58 125.88,86.03 127.06,85.61 128.25,85.31 129.43,85.14 130.61,85.08 131.79,85.12 132.98,85.24 134.16,85.42 135.34,85.67 136.52,85.95 137.71,86.26 138.89,86.58 140.07,86.90 141.25,87.20 142.44,87.47 143.62,87.70 144.80,87.87 145.98,87.96 147.17,87.97 148.35,87.87 149.53,87.66 150.71,87.35 151.90,86.94 153.08,86.44 154.26,85.85 155.44,85.19 156.62,84.46 157.81,83.66 158.99,82.81 160.17,81.91 161.36,80.97 162.54,80.00 163.72,78.99 164.90,77.97 166.09,76.93 167.27,75.89 168.45,74.85 169.63,73.82 170.81,72.80 172.00,71.80 173.18,70.84 174.36,69.91 175.55,69.03 176.73,68.19 177.91,67.42 179.09,66.71 180.28,66.07 181.46,65.51 182.64,65.04 183.82,64.67 185.00,64.39 186.19,64.19 187.37,64.08 188.55,64.05 189.74,64.09 190.92,64.20 192.10,64.36 193.28,64.58 194.47,64.84 195.65,65.14 196.83,65.46 198.01,65.80 199.19,66.14 200.38,66.49 201.56,66.84 202.74,67.16 203.93,67.47 205.11,67.74 206.29,67.98 207.47,68.20 208.66,68.39 209.84,68.55 211.02,68.69 212.20,68.80 213.38,68.90 214.57,68.98 215.75,69.04 216.93,69.08 218.12,69.12 219.30,69.14 220.48,69.15 221.66,69.15 222.85,69.14 224.03,69.13 225.21,69.11 226.39,69.09 227.58,69.06 228.76,69.03 229.94,69.00 231.12,68.96 232.31,68.92 233.49,68.88 234.67,68.84 235.85,68.80 237.04,68.76 238.22,68.73 239.40,68.69 240.58,68.66 241.77,68.63 242.95,68.61 244.13,68.58 245.31,68.57 246.50,68.55 247.68,68.54 248.86,68.54 250.04,68.53 251.23,68.53 252.41,68.54 253.59,68.55 254.77,68.55 255.96,68.57 257.14,68.58 258.32,68.60 259.50,68.62 260.69,68.65 261.87,68.67 263.05,68.70 264.23,68.73 265.42,68.77 266.60,68.81 267.78,68.85 268.96,68.89 270.15,68.95 271.33,69.00 272.51,69.06 273.69,69.13 274.88,69.20 276.06,69.27 277.24,69.35 278.42,69.44 279.61,69.54 280.79,69.64 281.97,69.74 283.15,69.85 284.34,69.97 285.52,70.09 286.70,70.21 287.88,70.33 289.06,70.46 290.25,70.58 291.43,70.71 292.61,70.83 293.80,70.95 294.98,71.07 296.16,71.19 297.34,71.30 298.53,71.41 299.71,71.51 300.89,71.60 302.07,71.69 303.26,71.77 304.44,71.85 305.62,71.92 306.80,71.98 307.99,72.04 309.17,72.10 310.35,72.15 311.53,72.19 312.72,72.24 313.90,72.28 315.08,72.31 316.26,72.35 317.44,72.38 318.63,72.41 319.81,72.44 320.99,72.47 322.18,72.50 323.36,72.52 324.54,72.55 325.72,72.57 326.91,72.60 328.09,72.62 329.27,72.65 330.45,72.67 331.63,72.69 332.82,72.71 334.00,72.74 335.18,72.76 336.37,72.78 337.55,72.81 338.73,72.83 339.91,72.85 341.10,72.88 342.28,72.91 343.46,72.93 344.64,72.96 345.82,72.99 347.01,73.02 348.19,73.05 349.37,73.09 350.56,73.12 351.74,73.16 352.92,73.20 354.10,73.24 355.29,73.29 356.47,73.33 357.65,73.38 358.83,73.43 360.02,73.48 361.20,73.53 362.38,73.59 363.56,73.65 364.75,73.70 365.93,73.76 367.11,73.82 368.29,73.88 369.48,73.94 370.66,74.00 371.84,74.06" fill="none" stroke="#8a3aa8" stroke-width="1.1" stroke-linejoin="round"/>
<path d="M48.97,154.49L56.17,154.49M50.02,151.94L55.11,157.03M52.57,150.89L52.57,158.09M55.11,151.94L50.02,157.03" stroke="#8a3aa8" stroke-width="1"/>
<path d="M86.81,121.51L94.00,121.51M87.86,118.97L92.95,124.06M90.41,117.91L90.41,125.11M92.95,118.97L87.86,124.06" stroke="#8a3aa8" stroke-width="1"/>
<path d="M124.65,85.31L131.84,85.31M125.70,82.76L130.79,87.86M128.25,81.71L128.25,88.91M130.79,82.76L125.70,87.86" stroke="#8a3aa8" stroke-width="1"/>
<path d="M162.49,76.81L169.69,76.81M163.54,74.26L168.63,79.36M166.09,73.21L166.09,80.41M168.63,74.26L163.54,79.36" stroke="#8a3aa8" stroke-width="1"/>
<path d="M200.33,67.47L207.53,67.47M201.38,64.92L206.47,70.01M203.93,63.87L203.93,71.07M206.47,64.92L201.38,70.01" stroke="#8a3aa8" stroke-width="1"/>
<path d="M238.17,68.63L245.37,68.63M239.22,66.09L244.31,71.18M241.77,65.03L241.77,72.23M244.31,66.09L239.22,71.18" stroke="#8a3aa8" stroke-width="1"/>
<path d="M276.00,69.54L283.21,69.54M277.06,66.99L282.15,72.08M279.61,65.94L279.61,73.14M282.15,66.99L277.06,72.08" stroke="#8a3aa8" stroke-width="1"/>
<path d="M313.84,72.38L321.05,72.38M314.90,69.83L319.99,74.93M317.44,68.78L317.44,75.98M319.99,69.83L314.90,74.93" stroke="#8a3aa8" stroke-width="1"/>
<path d="M351.69,73.29L358.89,73.29M352.74,70.74L357.83,75.83M355.29,69.69L355.29,76.89M357.83,70.74L352.74,75.83" stroke="#8a3aa8" stroke-width="1"/>
<path d="M52.57,223.01 53.75,224.90 54.93,226.71 56.11,228.36 57.30,229.79 58.48,230.92 59.66,231.68 60.84,232.00 62.03,231.91 63.21,231.44 64.39,230.64 65.57,229.55 66.75,228.20 67.94,226.64 69.12,224.91 70.30,223.03 71.49,221.06 72.67,219.03 73.85,216.95 75.03,214.83 76.22,212.70 77.40,210.56 78.58,208.42 79.76,206.31 80.95,204.24 82.13,202.22 83.31,200.26 84.49,198.37 85.68,196.56 86.86,194.81 88.04,193.13 89.22,191.51 90.41,189.96 91.59,188.47 92.77,187.04 93.95,185.66 95.14,184.35 96.32,183.08 97.50,181.86 98.68,180.67 99.87,179.51 101.05,178.37 102.23,177.24 103.41,176.11 104.59,174.99 105.78,173.87 106.96,172.76 108.14,171.67 109.33,170.59 110.51,169.55 111.69,168.54 112.87,167.58 114.06,166.65 115.24,165.78 116.42,164.96 117.60,164.19 118.79,163.47 119.97,162.79 121.15,162.15 122.33,161.54 123.52,160.96 124.70,160.41 125.88,159.88 127.06,159.38 128.25,158.89 129.43,158.42 130.61,157.98 131.79,157.55 132.98,157.14 134.16,156.74 135.34,156.36 136.52,156.00 137.71,155.65 138.89,155.31 140.07,154.99 141.25,154.68 142.44,154.38 143.62,154.09 144.80,153.81 145.98,153.53 147.17,153.27 148.35,153.01 149.53,152.76 150.71,152.52 151.90,152.28 153.08,152.05 154.26,151.82 155.44,151.60 156.62,151.38 157.81,151.17 158.99,150.96 160.17,150.75 161.36,150.55 162.54,150.35 163.72,150.16 164.90,149.97 166.09,149.78 167.27,149.59 168.45,149.40 169.63,149.22 170.81,149.03 172.00,148.84 173.18,148.65 174.36,148.45 175.55,148.24 176.73,148.03 177.91,147.81 179.09,147.58 180.28,147.34 181.46,147.09 182.64,146.82 183.82,146.54 185.00,146.24 186.19,145.93 187.37,145.59 188.55,145.24 189.74,144.87 190.92,144.47 192.10,144.06 193.28,143.63 194.47,143.18 195.65,142.74 196.83,142.29 198.01,141.84 199.19,141.39 200.38,140.96 201.56,140.53 202.74,140.13 203.93,139.75 205.11,139.39 206.29,139.05 207.47,138.74 208.66,138.44 209.84,138.16 211.02,137.89 212.20,137.63 213.38,137.37 214.57,137.13 215.75,136.88 216.93,136.64 218.12,136.39 219.30,136.14 220.48,135.88 221.66,135.61 222.85,135.33 224.03,135.03 225.21,134.73 226.39,134.42 227.58,134.10 228.76,133.79 229.94,133.46 231.12,133.14 232.31,132.83 233.49,132.51 234.67,132.20 235.85,131.90 237.04,131.61 238.22,131.32 239.40,131.06 240.58,130.80 241.77,130.57 242.95,130.35 244.13,130.14 245.31,129.96 246.50,129.78 247.68,129.62 248.86,129.46 250.04,129.32 251.23,129.17 252.41,129.04 253.59,128.90 254.77,128.76 255.96,128.62 257.14,128.48 258.32,128.33 259.50,128.17 260.69,128.01 261.87,127.83 263.05,127.65 264.23,127.45 265.42,127.26 266.60,127.05 267.78,126.84 268.96,126.63 270.15,126.42 271.33,126.20 272.51,125.98 273.69,125.77 274.88,125.56 276.06,125.35 277.24,125.14 278.42,124.94 279.61,124.75 280.79,124.56 281.97,124.38 283.15,124.21 284.34,124.04 285.52,123.88 286.70,123.72 287.88,123.58 289.06,123.43 290.25,123.29 291.43,123.15 292.61,123.02 293.80,122.89 294.98,122.77 296.16,122.64 297.34,122.52 298.53,122.41 299.71,122.29 300.89,122.18 302.07,122.06 303.26,121.94 304.44,121.82 305.62,121.70 306.80,121.57 307.99,121.43 309.17,121.28 310.35,121.12 311.53,120.94 312.72,120.76 313.90,120.55 315.08,120.33 316.26,120.09 317.44,119.83 318.63,119.55 319.81,119.25 320.99,118.94 322.18,118.63 323.36,118.30 324.54,117.99 325.72,117.68 326.91,117.38 328.09,117.09 329.27,116.83 330.45,116.58 331.63,116.34 332.82,116.12 334.00,115.91 335.18,115.71 336.37,115.52 337.55,115.35 338.73,115.18 339.91,115.02 341.10,114.87 342.28,114.72 343.46,114.58 344.64,114.45 345.82,114.31 347.01,114.17 348.19,114.04 349.37,113.90 350.56,113.75 351.74,113.60 352.92,113.45 354.10,113.28 355.29,113.11 356.47,112.93 357.65,112.73 358.83,112.53 360.02,112.31 361.20,112.09 362.38,111.86 363.56,111.63 364.75,111.39 365.93,111.14 367.11,110.90 368.29,110.64 369.48,110.39 370.66,110.13 371.84,109.88" fill="none" stroke="#d44a5c" stroke-width="1.1" stroke-dasharray="6 2.8 1.2 2.8" stroke-linejoin="round"/>
<path d="M52.57,128.50 53.75,131.69 54.93,134.84 56.11,137.93 57.30,140.91 58.48,143.74 59.66,146.38 60.84,148.78 62.03,150.88 63.21,152.62 64.39,153.97 65.57,154.88 66.75,155.38 67.94,155.51 69.12,155.33 70.30,154.88 71.49,154.17 72.67,153.23 73.85,152.10 75.03,150.78 76.22,149.31 77.40,147.71 78.58,146.01 79.76,144.23 80.95,142.37 82.13,140.45 83.31,138.46 84.49,136.41 85.68,134.31 86.86,132.14 88.04,129.93 89.22,127.66 90.41,125.34 91.59,122.99 92.77,120.61 93.95,118.24 95.14,115.92 96.32,113.67 97.50,111.52 98.68,109.50 99.87,107.65 101.05,106.00 102.23,104.56 103.41,103.33 104.59,102.28 105.78,101.39 106.96,100.64 108.14,100.01 109.33,99.47 110.51,99.01 111.69,98.60 112.87,98.23 114.06,97.90 115.24,97.60 116.42,97.35 117.60,97.12 118.79,96.94 119.97,96.79 121.15,96.67 122.33,96.58 123.52,96.53 124.70,96.51 125.88,96.52 127.06,96.55 128.25,96.62 129.43,96.70 130.61,96.80 131.79,96.93 132.98,97.07 134.16,97.23 135.34,97.41 136.52,97.59 137.71,97.78 138.89,97.98 140.07,98.19 141.25,98.39 142.44,98.58 143.62,98.77 144.80,98.95 145.98,99.12 147.17,99.27 148.35,99.40 149.53,99.51 150.71,99.59 151.90,99.65 153.08,99.67 154.26,99.65 155.44,99.60 156.62,99.51 157.81,99.38 158.99,99.20 160.17,98.99 161.36,98.75 162.54,98.47 163.72,98.17 164.90,97.84 166.09,97.49 167.27,97.12 168.45,96.74 169.63,96.34 170.81,95.94 172.00,95.53 173.18,95.12 174.36,94.70 175.55,94.30 176.73,93.89 177.91,93.51 179.09,93.16 180.28,92.86 181.46,92.65 182.64,92.53 183.82,92.54 185.00,92.70 186.19,93.02 187.37,93.53 188.55,94.22 189.74,95.06 190.92,96.02 192.10,97.08 193.28,98.21 194.47,99.37 195.65,100.55 196.83,101.70 198.01,102.81 199.19,103.88 200.38,104.88 201.56,105.82 202.74,106.68 203.93,107.46 205.11,108.16 206.29,108.76 207.47,109.26 208.66,109.65 209.84,109.95 211.02,110.15 212.20,110.26 213.38,110.28 214.57,110.22 215.75,110.09 216.93,109.88 218.12,109.60 219.30,109.26 220.48,108.87 221.66,108.45 222.85,108.00 224.03,107.54 225.21,107.07 226.39,106.61 227.58,106.16 228.76,105.75 229.94,105.37 231.12,105.04 232.31,104.77 233.49,104.58 234.67,104.47 235.85,104.45 237.04,104.52 238.22,104.67 239.40,104.88 240.58,105.15 241.77,105.46 242.95,105.80 244.13,106.16 245.31,106.53 246.50,106.89 247.68,107.23 248.86,107.54 250.04,107.81 251.23,108.02 252.41,108.19 253.59,108.30 254.77,108.36 255.96,108.38 257.14,108.35 258.32,108.28 259.50,108.17 260.69,108.03 261.87,107.84 263.05,107.62 264.23,107.37 265.42,107.09 266.60,106.77 267.78,106.44 268.96,106.08 270.15,105.70 271.33,105.30 272.51,104.89 273.69,104.48 274.88,104.05 276.06,103.63 277.24,103.21 278.42,102.79 279.61,102.38 280.79,101.98 281.97,101.60 283.15,101.23 284.34,100.87 285.52,100.54 286.70,100.22 287.88,99.92 289.06,99.64 290.25,99.38 291.43,99.15 292.61,98.93 293.80,98.75 294.98,98.59 296.16,98.46 297.34,98.36 298.53,98.29 299.71,98.25 300.89,98.24 302.07,98.26 303.26,98.31 304.44,98.37 305.62,98.42 306.80,98.46 307.99,98.48 309.17,98.46 310.35,98.39 311.53,98.26 312.72,98.06 313.90,97.78 315.08,97.40 316.26,96.91 317.44,96.30 318.63,95.57 319.81,94.72 320.99,93.79 322.18,92.78 323.36,91.71 324.54,90.62 325.72,89.51 326.91,88.40 328.09,87.32 329.27,86.29 330.45,85.32 331.63,84.42 332.82,83.61 334.00,82.86 335.18,82.20 336.37,81.62 337.55,81.12 338.73,80.70 339.91,80.37 341.10,80.11 342.28,79.95 343.46,79.86 344.64,79.87 345.82,79.96 347.01,80.13 348.19,80.36 349.37,80.64 350.56,80.96 351.74,81.30 352.92,81.65 354.10,82.00 355.29,82.34 356.47,82.64 357.65,82.92 358.83,83.18 360.02,83.41 361.20,83.62 362.38,83.81 363.56,83.99 364.75,84.15 365.93,84.30 367.11,84.44 368.29,84.56 369.48,84.69 370.66,84.81 371.84,84.92" fill="none" stroke="#7cb840" stroke-width="1.1" stroke-dasharray="6 2.8 1.2 2.8" stroke-linejoin="round"/>
</g>
<rect x="41.0" y="22.3" width="341.0" height="233.0" fill="none" stroke="#555555" stroke-width="1.3"/>
<line x1="50.20" y1="255.3" x2="50.20" y2="252.0" stroke="#555555" stroke-width="1"/>
<line x1="50.20" y1="22.3" x2="50.20" y2="25.6" stroke="#555555" stroke-width="1"/>
<text x="50.20" y="271.3" font-size="10.5" text-anchor="middle" class="s">0</text>
<line x1="97.50" y1="255.3" x2="97.50" y2="252.0" stroke="#555555" stroke-width="1"/>
<line x1="97.50" y1="22.3" x2="97.50" y2="25.6" stroke="#555555" stroke-width="1"/>
<text x="97.50" y="271.3" font-size="10.5" text-anchor="middle" class="s">20</text>
<line x1="144.80" y1="255.3" x2="144.80" y2="252.0" stroke="#555555" stroke-width="1"/>
<line x1="144.80" y1="22.3" x2="144.80" y2="25.6" stroke="#555555" stroke-width="1"/>
<text x="144.80" y="271.3" font-size="10.5" text-anchor="middle" class="s">40</text>
<line x1="192.10" y1="255.3" x2="192.10" y2="252.0" stroke="#555555" stroke-width="1"/>
<line x1="192.10" y1="22.3" x2="192.10" y2="25.6" stroke="#555555" stroke-width="1"/>
<text x="192.10" y="271.3" font-size="10.5" text-anchor="middle" class="s">60</text>
<line x1="239.40" y1="255.3" x2="239.40" y2="252.0" stroke="#555555" stroke-width="1"/>
<line x1="239.40" y1="22.3" x2="239.40" y2="25.6" stroke="#555555" stroke-width="1"/>
<text x="239.40" y="271.3" font-size="10.5" text-anchor="middle" class="s">80</text>
<line x1="286.70" y1="255.3" x2="286.70" y2="252.0" stroke="#555555" stroke-width="1"/>
<line x1="286.70" y1="22.3" x2="286.70" y2="25.6" stroke="#555555" stroke-width="1"/>
<text x="286.70" y="271.3" font-size="10.5" text-anchor="middle" class="s">100</text>
<line x1="334.00" y1="255.3" x2="334.00" y2="252.0" stroke="#555555" stroke-width="1"/>
<line x1="334.00" y1="22.3" x2="334.00" y2="25.6" stroke="#555555" stroke-width="1"/>
<text x="334.00" y="271.3" font-size="10.5" text-anchor="middle" class="s">120</text>
<line x1="381.30" y1="255.3" x2="381.30" y2="252.0" stroke="#555555" stroke-width="1"/>
<line x1="381.30" y1="22.3" x2="381.30" y2="25.6" stroke="#555555" stroke-width="1"/>
<text x="381.30" y="271.3" font-size="10.5" text-anchor="middle" class="s">140</text>
<line x1="41.0" y1="255.34" x2="44.3" y2="255.34" stroke="#555555" stroke-width="1"/>
<line x1="382.0" y1="255.34" x2="378.7" y2="255.34" stroke="#555555" stroke-width="1"/>
<text x="36.0" y="260.24" font-size="10.5" text-anchor="end" class="s">-8</text>
<line x1="41.0" y1="229.48" x2="44.3" y2="229.48" stroke="#555555" stroke-width="1"/>
<line x1="382.0" y1="229.48" x2="378.7" y2="229.48" stroke="#555555" stroke-width="1"/>
<text x="36.0" y="234.38" font-size="10.5" text-anchor="end" class="s">-6</text>
<line x1="41.0" y1="203.62" x2="44.3" y2="203.62" stroke="#555555" stroke-width="1"/>
<line x1="382.0" y1="203.62" x2="378.7" y2="203.62" stroke="#555555" stroke-width="1"/>
<text x="36.0" y="208.52" font-size="10.5" text-anchor="end" class="s">-4</text>
<line x1="41.0" y1="177.76" x2="44.3" y2="177.76" stroke="#555555" stroke-width="1"/>
<line x1="382.0" y1="177.76" x2="378.7" y2="177.76" stroke="#555555" stroke-width="1"/>
<text x="36.0" y="182.66" font-size="10.5" text-anchor="end" class="s">-2</text>
<line x1="41.0" y1="151.90" x2="44.3" y2="151.90" stroke="#555555" stroke-width="1"/>
<line x1="382.0" y1="151.90" x2="378.7" y2="151.90" stroke="#555555" stroke-width="1"/>
<text x="36.0" y="156.80" font-size="10.5" text-anchor="end" class="s">0</text>
<line x1="41.0" y1="126.04" x2="44.3" y2="126.04" stroke="#555555" stroke-width="1"/>
<line x1="382.0" y1="126.04" x2="378.7" y2="126.04" stroke="#555555" stroke-width="1"/>
<text x="36.0" y="130.94" font-size="10.5" text-anchor="end" class="s">2</text>
<line x1="41.0" y1="100.18" x2="44.3" y2="100.18" stroke="#555555" stroke-width="1"/>
<line x1="382.0" y1="100.18" x2="378.7" y2="100.18" stroke="#555555" stroke-width="1"/>
<text x="36.0" y="105.08" font-size="10.5" text-anchor="end" class="s">4</text>
<line x1="41.0" y1="74.32" x2="44.3" y2="74.32" stroke="#555555" stroke-width="1"/>
<line x1="382.0" y1="74.32" x2="378.7" y2="74.32" stroke="#555555" stroke-width="1"/>
<text x="36.0" y="79.22" font-size="10.5" text-anchor="end" class="s">6</text>
<line x1="41.0" y1="48.46" x2="44.3" y2="48.46" stroke="#555555" stroke-width="1"/>
<line x1="382.0" y1="48.46" x2="378.7" y2="48.46" stroke="#555555" stroke-width="1"/>
<text x="36.0" y="53.36" font-size="10.5" text-anchor="end" class="s">8</text>
<line x1="41.0" y1="22.60" x2="44.3" y2="22.60" stroke="#555555" stroke-width="1"/>
<line x1="382.0" y1="22.60" x2="378.7" y2="22.60" stroke="#555555" stroke-width="1"/>
<text x="36.0" y="27.50" font-size="10.5" text-anchor="end" class="s">10</text>
<text x="210.70" y="16.7" font-size="12.3" font-weight="bold" text-anchor="middle" class="s">Cluster 1</text>
<text x="211.50" y="287.2" font-size="12.25" text-anchor="middle" class="s">Day</text>
<text transform="translate(17.6,138.80) rotate(-90)" x="0" y="0" font-size="12.25" text-anchor="middle" class="s">CNC per million people</text>
<g clip-path="url(#clip1)">
<path d="M52.57,512.50 53.75,506.07 54.93,499.99 56.11,494.59 57.30,490.17 58.48,486.65 59.66,483.82 60.84,481.44 62.03,479.29 63.21,477.28 64.39,475.41 65.57,473.67 66.75,472.08 67.94,470.62 69.12,469.30 70.30,468.13 71.49,467.08 72.67,466.16 73.85,465.34 75.03,464.62 76.22,463.97 77.40,463.40 78.58,462.88 79.76,462.40 80.95,461.96 82.13,461.56 83.31,461.20 84.49,460.88 85.68,460.61 86.86,460.39 88.04,460.23 89.22,460.12 90.41,460.06 91.59,460.07 92.77,460.13 93.95,460.25 95.14,460.43 96.32,460.67 97.50,460.97 98.68,461.34 99.87,461.76 101.05,462.24 102.23,462.78 103.41,463.37 104.59,464.02 105.78,464.71 106.96,465.46 108.14,466.26 109.33,467.11 110.51,468.00 111.69,468.91 112.87,469.84 114.06,470.76 115.24,471.66 116.42,472.53 117.60,473.35 118.79,474.12 119.97,474.81 121.15,475.47 122.33,476.10 123.52,476.74 124.70,477.41 125.88,478.14 127.06,478.94 128.25,479.85 129.43,480.88 130.61,482.07 131.79,483.38 132.98,484.78 134.16,486.21 135.34,487.63 136.52,488.97 137.71,490.22 138.89,491.37 140.07,492.45 141.25,493.47 142.44,494.45 143.62,495.40 144.80,496.33 145.98,497.26 147.17,498.21 148.35,499.19 149.53,500.21 150.71,501.30 151.90,502.46 153.08,503.71 154.26,505.05 155.44,506.47 156.62,507.93 157.81,509.40 158.99,510.87 160.17,512.30 161.36,513.67 162.54,514.96 163.72,516.13 164.90,517.17 166.09,518.08 167.27,518.84 168.45,519.44 169.63,519.87 170.81,520.13 172.00,520.20 173.18,520.09 174.36,519.82 175.55,519.41 176.73,518.87 177.91,518.22 179.09,517.47 180.28,516.63 181.46,515.72 182.64,514.76 183.82,513.76 185.00,512.73 186.19,511.69 187.37,510.64 188.55,509.59 189.74,508.55 190.92,507.55 192.10,506.58 193.28,505.66 194.47,504.79 195.65,504.00 196.83,503.30 198.01,502.71 199.19,502.25 200.38,501.93 201.56,501.78 202.74,501.81 203.93,502.00 205.11,502.32 206.29,502.74 207.47,503.20 208.66,503.68 209.84,504.14 211.02,504.54 212.20,504.88 213.38,505.18 214.57,505.46 215.75,505.74 216.93,506.02 218.12,506.33 219.30,506.65 220.48,506.97 221.66,507.29 222.85,507.61 224.03,507.92 225.21,508.20 226.39,508.46 227.58,508.69 228.76,508.88 229.94,509.02 231.12,509.11 232.31,509.14 233.49,509.11 234.67,509.02 235.85,508.89 237.04,508.74 238.22,508.57 239.40,508.41 240.58,508.28 241.77,508.18 242.95,508.14 244.13,508.17 245.31,508.29 246.50,508.51 247.68,508.84 248.86,509.28 250.04,509.82 251.23,510.48 252.41,511.25 253.59,512.12 254.77,513.10 255.96,514.18 257.14,515.35 258.32,516.59 259.50,517.89 260.69,519.23 261.87,520.61 263.05,522.00 264.23,523.40 265.42,524.78 266.60,526.15 267.78,527.48 268.96,528.79 270.15,530.06 271.33,531.29 272.51,532.48 273.69,533.62 274.88,534.72 276.06,535.76 277.24,536.74 278.42,537.67 279.61,538.53 280.79,539.32 281.97,540.06 283.15,540.75 284.34,541.38 285.52,541.97 286.70,542.51 287.88,543.02 289.06,543.48 290.25,543.92 291.43,544.32 292.61,544.69 293.80,545.03 294.98,545.33 296.16,545.60 297.34,545.83 298.53,546.02 299.71,546.17 300.89,546.28 302.07,546.35 303.26,546.38 304.44,546.36 305.62,546.31 306.80,546.23 307.99,546.12 309.17,545.99 310.35,545.86 311.53,545.71 312.72,545.57 313.90,545.43 315.08,545.31 316.26,545.20 317.44,545.12 318.63,545.07 319.81,545.05 320.99,545.05 322.18,545.07 323.36,545.09 324.54,545.12 325.72,545.13 326.91,545.13 328.09,545.11 329.27,545.05 330.45,544.95 331.63,544.80 332.82,544.59 334.00,544.32 335.18,543.98 336.37,543.58 337.55,543.13 338.73,542.63 339.91,542.09 341.10,541.52 342.28,540.92 343.46,540.29 344.64,539.65 345.82,539.01 347.01,538.36 348.19,537.72 349.37,537.09 350.56,536.48 351.74,535.90 352.92,535.36 354.10,534.87 355.29,534.42 356.47,534.04 357.65,533.73 358.83,533.49 360.02,533.36 361.20,533.40 362.38,533.67 363.56,534.22 364.75,535.12 365.93,536.42 367.11,538.17 368.29,540.30 369.48,542.73 370.66,545.38 371.84,548.17 372.55,549.87" fill="none" stroke="#c42a44" stroke-width="1.1" stroke-linejoin="round"/>
<path d="M52.57,477.33 53.75,478.10 54.93,478.84 56.11,479.49 57.30,480.02 58.48,480.39 59.66,480.56 60.84,480.50 62.03,480.21 63.21,479.71 64.39,479.00 65.57,478.10 66.75,477.04 67.94,475.86 69.12,474.61 70.30,473.31 71.49,472.01 72.67,470.74 73.85,469.53 75.03,468.39 76.22,467.29 77.40,466.23 78.58,465.19 79.76,464.17 80.95,463.14 82.13,462.11 83.31,461.04 84.49,459.96 85.68,458.88 86.86,457.81 88.04,456.77 89.22,455.78 90.41,454.85 91.59,454.00 92.77,453.25 93.95,452.61 95.14,452.06 96.32,451.59 97.50,451.21 98.68,450.90 99.87,450.65 101.05,450.46 102.23,450.31 103.41,450.20 104.59,450.12 105.78,450.07 106.96,450.05 108.14,450.04 109.33,450.06 110.51,450.09 111.69,450.12 112.87,450.17 114.06,450.21 115.24,450.25 116.42,450.29 117.60,450.31 118.79,450.32 119.97,450.31 121.15,450.28 122.33,450.23 123.52,450.17 124.70,450.10 125.88,450.03 127.06,449.97 128.25,449.92 129.43,449.89 130.61,449.88 131.79,449.89 132.98,449.94 134.16,450.03 135.34,450.16 136.52,450.35 137.71,450.59 138.89,450.87 140.07,451.21 141.25,451.59 142.44,452.00 143.62,452.45 144.80,452.94 145.98,453.45 147.17,453.99 148.35,454.54 149.53,455.11 150.71,455.70 151.90,456.29 153.08,456.89 154.26,457.49 155.44,458.09 156.62,458.69 157.81,459.27 158.99,459.85 160.17,460.41 161.36,460.95 162.54,461.48 163.72,461.98 164.90,462.45 166.09,462.89 167.27,463.30 168.45,463.68 169.63,464.01 170.81,464.30 172.00,464.55 173.18,464.75 174.36,464.90 175.55,465.00 176.73,465.05 177.91,465.04 179.09,464.97 180.28,464.86 181.46,464.70 182.64,464.52 183.82,464.32 185.00,464.10 186.19,463.88 187.37,463.65 188.55,463.44 189.74,463.25 190.92,463.09 192.10,462.96 193.28,462.88 194.47,462.84 195.65,462.86 196.83,462.94 198.01,463.07 199.19,463.24 200.38,463.46 201.56,463.72 202.74,464.02 203.93,464.36 205.11,464.73 206.29,465.13 207.47,465.56 208.66,466.02 209.84,466.50 211.02,467.00 212.20,467.51 213.38,468.02 214.57,468.53 215.75,469.01 216.93,469.47 218.12,469.89 219.30,470.26 220.48,470.58 221.66,470.83 222.85,471.00 224.03,471.11 225.21,471.15 226.39,471.13 227.58,471.04 228.76,470.89 229.94,470.68 231.12,470.42 232.31,470.10 233.49,469.73 234.67,469.32 235.85,468.87 237.04,468.40 238.22,467.91 239.40,467.40 240.58,466.90 241.77,466.41 242.95,465.94 244.13,465.49 245.31,465.08 246.50,464.71 247.68,464.40 248.86,464.16 250.04,463.98 251.23,463.89 252.41,463.88 253.59,463.98 254.77,464.16 255.96,464.43 257.14,464.78 258.32,465.20 259.50,465.68 260.69,466.21 261.87,466.80 263.05,467.42 264.23,468.07 265.42,468.76 266.60,469.46 267.78,470.17 268.96,470.88 270.15,471.59 271.33,472.30 272.51,472.99 273.69,473.68 274.88,474.36 276.06,475.02 277.24,475.66 278.42,476.29 279.61,476.89 280.79,477.48 281.97,478.03 283.15,478.56 284.34,479.05 285.52,479.50 286.70,479.91 287.88,480.27 289.06,480.58 290.25,480.84 291.43,481.04 292.61,481.20 293.80,481.33 294.98,481.45 296.16,481.56 297.34,481.67 298.53,481.80 299.71,481.96 300.89,482.15 302.07,482.39 303.26,482.70 304.44,483.07 305.62,483.51 306.80,484.00 307.99,484.55 309.17,485.14 310.35,485.78 311.53,486.45 312.72,487.15 313.90,487.89 315.08,488.64 316.26,489.40 317.44,490.18 318.63,490.96 319.81,491.74 320.99,492.51 322.18,493.27 323.36,494.02 324.54,494.73 325.72,495.41 326.91,496.06 328.09,496.66 329.27,497.22 330.45,497.71 331.63,498.15 332.82,498.52 334.00,498.81 335.18,499.02 336.37,499.15 337.55,499.18 338.73,499.12 339.91,498.97 341.10,498.72 342.28,498.40 343.46,497.99 344.64,497.51 345.82,496.96 347.01,496.34 348.19,495.66 349.37,494.93 350.56,494.19 351.74,493.44 352.92,492.70 354.10,492.01 355.29,491.37 356.47,490.80 357.65,490.34 358.83,489.98 360.02,489.77 361.20,489.71 362.38,489.83 363.56,490.16 364.75,490.73 365.93,491.56 367.11,492.67 368.29,494.10 369.48,495.83 370.66,497.77 371.84,499.85 372.55,501.12" fill="none" stroke="#7cb840" stroke-width="1.1" stroke-linejoin="round"/>
<path d="M52.57,460.13 53.75,458.65 54.93,457.16 56.11,455.69 57.30,454.23 58.48,452.78 59.66,451.35 60.84,449.95 62.03,448.58 63.21,447.25 64.39,445.96 65.57,444.72 66.75,443.56 67.94,442.46 69.12,441.45 70.30,440.53 71.49,439.71 72.67,438.99 73.85,438.38 75.03,437.88 76.22,437.50 77.40,437.24 78.58,437.10 79.76,437.09 80.95,437.21 82.13,437.44 83.31,437.77 84.49,438.20 85.68,438.71 86.86,439.31 88.04,439.99 89.22,440.74 90.41,441.56 91.59,442.46 92.77,443.45 93.95,444.52 95.14,445.68 96.32,446.93 97.50,448.27 98.68,449.66 99.87,451.09 101.05,452.55 102.23,454.00 103.41,455.43 104.59,456.82 105.78,458.17 106.96,459.46 108.14,460.70 109.33,461.90 110.51,463.05 111.69,464.15 112.87,465.21 114.06,466.22 115.24,467.19 116.42,468.11 117.60,468.97 118.79,469.77 119.97,470.50 121.15,471.16 122.33,471.73 123.52,472.24 124.70,472.70 125.88,473.15 127.06,473.60 128.25,474.08 129.43,474.63 130.61,475.27 131.79,475.98 132.98,476.74 134.16,477.52 135.34,478.30 136.52,479.02 137.71,479.69 138.89,480.29 140.07,480.83 141.25,481.31 142.44,481.75 143.62,482.13 144.80,482.46 145.98,482.76 147.17,483.01 148.35,483.23 149.53,483.42 150.71,483.57 151.90,483.71 153.08,483.82 154.26,483.91 155.44,483.98 156.62,484.02 157.81,484.05 158.99,484.05 160.17,484.03 161.36,483.99 162.54,483.92 163.72,483.82 164.90,483.70 166.09,483.55 167.27,483.37 168.45,483.16 169.63,482.92 170.81,482.65 172.00,482.35 173.18,482.04 174.36,481.70 175.55,481.34 176.73,480.97 177.91,480.59 179.09,480.20 180.28,479.81 181.46,479.41 182.64,479.02 183.82,478.63 185.00,478.25 186.19,477.89 187.37,477.53 188.55,477.19 189.74,476.86 190.92,476.54 192.10,476.23 193.28,475.93 194.47,475.63 195.65,475.35 196.83,475.08 198.01,474.82 199.19,474.56 200.38,474.31 201.56,474.06 202.74,473.83 203.93,473.60 205.11,473.37 206.29,473.15 207.47,472.94 208.66,472.73 209.84,472.53 211.02,472.34 212.20,472.15 213.38,471.96 214.57,471.78 215.75,471.61 216.93,471.45 218.12,471.29 219.30,471.13 220.48,470.99 221.66,470.86 222.85,470.74 224.03,470.63 225.21,470.53 226.39,470.45 227.58,470.39 228.76,470.35 229.94,470.32 231.12,470.32 232.31,470.33 233.49,470.38 234.67,470.44 235.85,470.53 237.04,470.64 238.22,470.78 239.40,470.94 240.58,471.12 241.77,471.34 242.95,471.57 244.13,471.83 245.31,472.11 246.50,472.42 247.68,472.76 248.86,473.12 250.04,473.50 251.23,473.91 252.41,474.33 253.59,474.77 254.77,475.22 255.96,475.67 257.14,476.12 258.32,476.56 259.50,477.00 260.69,477.42 261.87,477.82 263.05,478.20 264.23,478.56 265.42,478.88 266.60,479.17 267.78,479.43 268.96,479.65 270.15,479.84 271.33,480.01 272.51,480.15 273.69,480.27 274.88,480.37 276.06,480.45 277.24,480.51 278.42,480.56 279.61,480.59 280.79,480.61 281.97,480.60 283.15,480.58 284.34,480.52 285.52,480.42 286.70,480.29 287.88,480.11 289.06,479.88 290.25,479.60 291.43,479.26 292.61,478.92 293.80,478.59 294.98,478.32 296.16,478.14 297.34,478.06 298.53,478.08 299.71,478.18 300.89,478.37 302.07,478.63 303.26,478.95 304.44,479.33 305.62,479.77 306.80,480.24 307.99,480.76 309.17,481.30 310.35,481.87 311.53,482.44 312.72,483.03 313.90,483.60 315.08,484.17 316.26,484.71 317.44,485.23 318.63,485.71 319.81,486.13 320.99,486.51 322.18,486.82 323.36,487.05 324.54,487.21 325.72,487.28 326.91,487.28 328.09,487.20 329.27,487.06 330.45,486.87 331.63,486.62 332.82,486.33 334.00,486.01 335.18,485.65 336.37,485.27 337.55,484.88 338.73,484.47 339.91,484.06 341.10,483.65 342.28,483.23 343.46,482.82 344.64,482.42 345.82,482.02 347.01,481.64 348.19,481.28 349.37,480.94 350.56,480.62 351.74,480.33 352.92,480.08 354.10,479.85 355.29,479.67 356.47,479.53 357.65,479.43 358.83,479.38 360.02,479.36 361.20,479.38 362.38,479.43 363.56,479.50 364.75,479.61 365.93,479.74 367.11,479.88 368.29,480.04 369.48,480.21 370.66,480.39 371.84,480.58 372.55,480.69" fill="none" stroke="#c42a44" stroke-width="1.1" stroke-dasharray="8.5 5" stroke-linejoin="round"/>
<path d="M52.57,495.17 53.75,493.27 54.93,491.37 56.11,489.47 57.30,487.58 58.48,485.68 59.66,483.80 60.84,481.92 62.03,480.07 63.21,478.28 64.39,476.57 65.57,474.96 66.75,473.49 67.94,472.17 69.12,471.02 70.30,470.02 71.49,469.17 72.67,468.44 73.85,467.81 75.03,467.27 76.22,466.81 77.40,466.40 78.58,466.03 79.76,465.69 80.95,465.35 82.13,465.04 83.31,464.74 84.49,464.46 85.68,464.21 86.86,463.99 88.04,463.79 89.22,463.63 90.41,463.50 91.59,463.40 92.77,463.35 93.95,463.34 95.14,463.37 96.32,463.45 97.50,463.58 98.68,463.76 99.87,464.00 101.05,464.28 102.23,464.63 103.41,465.04 104.59,465.51 105.78,466.04 106.96,466.64 108.14,467.29 109.33,467.97 110.51,468.67 111.69,469.40 112.87,470.12 114.06,470.83 115.24,471.52 116.42,472.17 117.60,472.78 118.79,473.34 119.97,473.87 121.15,474.38 122.33,474.89 123.52,475.41 124.70,475.95 125.88,476.52 127.06,477.13 128.25,477.81 129.43,478.56 130.61,479.39 131.79,480.30 132.98,481.24 134.16,482.18 135.34,483.10 136.52,483.96 137.71,484.74 138.89,485.44 140.07,486.09 141.25,486.68 142.44,487.23 143.62,487.75 144.80,488.24 145.98,488.73 147.17,489.22 148.35,489.73 149.53,490.25 150.71,490.81 151.90,491.42 153.08,492.08 154.26,492.80 155.44,493.57 156.62,494.39 157.81,495.24 158.99,496.12 160.17,497.01 161.36,497.92 162.54,498.82 163.72,499.72 164.90,500.59 166.09,501.44 167.27,502.25 168.45,503.02 169.63,503.73 170.81,504.38 172.00,504.96 173.18,505.47 174.36,505.90 175.55,506.25 176.73,506.52 177.91,506.69 179.09,506.76 180.28,506.72 181.46,506.58 182.64,506.34 183.82,506.01 185.00,505.61 186.19,505.15 187.37,504.65 188.55,504.12 189.74,503.58 190.92,503.05 192.10,502.53 193.28,502.04 194.47,501.60 195.65,501.21 196.83,500.88 198.01,500.59 199.19,500.34 200.38,500.14 201.56,499.97 202.74,499.84 203.93,499.74 205.11,499.68 206.29,499.66 207.47,499.67 208.66,499.72 209.84,499.81 211.02,499.94 212.20,500.10 213.38,500.30 214.57,500.54 215.75,500.81 216.93,501.12 218.12,501.47 219.30,501.85 220.48,502.27 221.66,502.72 222.85,503.21 224.03,503.72 225.21,504.27 226.39,504.84 227.58,505.44 228.76,506.06 229.94,506.71 231.12,507.38 232.31,508.08 233.49,508.79 234.67,509.52 235.85,510.25 237.04,510.96 238.22,511.64 239.40,512.29 240.58,512.88 241.77,513.40 242.95,513.84 244.13,514.19 245.31,514.44 246.50,514.56 247.68,514.56 248.86,514.41 250.04,514.13 251.23,513.74 252.41,513.24 253.59,512.64 254.77,511.95 255.96,511.19 257.14,510.37 258.32,509.50 259.50,508.59 260.69,507.64 261.87,506.68 263.05,505.70 264.23,504.73 265.42,503.77 266.60,502.83 267.78,501.91 268.96,501.04 270.15,500.22 271.33,499.46 272.51,498.77 273.69,498.16 274.88,497.65 276.06,497.25 277.24,496.98 278.42,496.86 279.61,496.92 280.79,497.17 281.97,497.63 283.15,498.31 284.34,499.17 285.52,500.16 286.70,501.21 287.88,502.28 289.06,503.32 290.25,504.26 291.43,505.09 292.61,505.82 293.80,506.44 294.98,506.97 296.16,507.39 297.34,507.73 298.53,507.99 299.71,508.16 300.89,508.25 302.07,508.27 303.26,508.22 304.44,508.10 305.62,507.93 306.80,507.70 307.99,507.42 309.17,507.11 310.35,506.75 311.53,506.37 312.72,505.97 313.90,505.54 315.08,505.11 316.26,504.67 317.44,504.23 318.63,503.79 319.81,503.37 320.99,502.97 322.18,502.59 323.36,502.24 324.54,501.93 325.72,501.66 326.91,501.43 328.09,501.26 329.27,501.15 330.45,501.11 331.63,501.13 332.82,501.23 334.00,501.40 335.18,501.63 336.37,501.92 337.55,502.25 338.73,502.63 339.91,503.04 341.10,503.49 342.28,503.95 343.46,504.43 344.64,504.92 345.82,505.42 347.01,505.91 348.19,506.39 349.37,506.85 350.56,507.30 351.74,507.72 352.92,508.11 354.10,508.47 355.29,508.78 356.47,509.06 357.65,509.29 358.83,509.46 360.02,509.57 361.20,509.58 362.38,509.48 363.56,509.24 364.75,508.83 365.93,508.23 367.11,507.41 368.29,506.36 369.48,505.08 370.66,503.63 371.84,502.08 372.55,501.12" fill="none" stroke="#9a4ad0" stroke-width="1.1" stroke-dasharray="6 2.8 1.2 2.8" stroke-linejoin="round"/>
</g>
<rect x="41.0" y="342.3" width="341.0" height="233.0" fill="none" stroke="#555555" stroke-width="1.3"/>
<line x1="50.20" y1="575.3" x2="50.20" y2="572.0" stroke="#555555" stroke-width="1"/>
<line x1="50.20" y1="342.3" x2="50.20" y2="345.6" stroke="#555555" stroke-width="1"/>
<text x="50.20" y="591.3" font-size="10.5" text-anchor="middle" class="s">0</text>
<line x1="97.50" y1="575.3" x2="97.50" y2="572.0" stroke="#555555" stroke-width="1"/>
<line x1="97.50" y1="342.3" x2="97.50" y2="345.6" stroke="#555555" stroke-width="1"/>
<text x="97.50" y="591.3" font-size="10.5" text-anchor="middle" class="s">20</text>
<line x1="144.80" y1="575.3" x2="144.80" y2="572.0" stroke="#555555" stroke-width="1"/>
<line x1="144.80" y1="342.3" x2="144.80" y2="345.6" stroke="#555555" stroke-width="1"/>
<text x="144.80" y="591.3" font-size="10.5" text-anchor="middle" class="s">40</text>
<line x1="192.10" y1="575.3" x2="192.10" y2="572.0" stroke="#555555" stroke-width="1"/>
<line x1="192.10" y1="342.3" x2="192.10" y2="345.6" stroke="#555555" stroke-width="1"/>
<text x="192.10" y="591.3" font-size="10.5" text-anchor="middle" class="s">60</text>
<line x1="239.40" y1="575.3" x2="239.40" y2="572.0" stroke="#555555" stroke-width="1"/>
<line x1="239.40" y1="342.3" x2="239.40" y2="345.6" stroke="#555555" stroke-width="1"/>
<text x="239.40" y="591.3" font-size="10.5" text-anchor="middle" class="s">80</text>
<line x1="286.70" y1="575.3" x2="286.70" y2="572.0" stroke="#555555" stroke-width="1"/>
<line x1="286.70" y1="342.3" x2="286.70" y2="345.6" stroke="#555555" stroke-width="1"/>
<text x="286.70" y="591.3" font-size="10.5" text-anchor="middle" class="s">100</text>
<line x1="334.00" y1="575.3" x2="334.00" y2="572.0" stroke="#555555" stroke-width="1"/>
<line x1="334.00" y1="342.3" x2="334.00" y2="345.6" stroke="#555555" stroke-width="1"/>
<text x="334.00" y="591.3" font-size="10.5" text-anchor="middle" class="s">120</text>
<line x1="381.30" y1="575.3" x2="381.30" y2="572.0" stroke="#555555" stroke-width="1"/>
<line x1="381.30" y1="342.3" x2="381.30" y2="345.6" stroke="#555555" stroke-width="1"/>
<text x="381.30" y="591.3" font-size="10.5" text-anchor="middle" class="s">140</text>
<line x1="41.0" y1="575.34" x2="44.3" y2="575.34" stroke="#555555" stroke-width="1"/>
<line x1="382.0" y1="575.34" x2="378.7" y2="575.34" stroke="#555555" stroke-width="1"/>
<text x="36.0" y="580.24" font-size="10.5" text-anchor="end" class="s">-8</text>
<line x1="41.0" y1="549.48" x2="44.3" y2="549.48" stroke="#555555" stroke-width="1"/>
<line x1="382.0" y1="549.48" x2="378.7" y2="549.48" stroke="#555555" stroke-width="1"/>
<text x="36.0" y="554.38" font-size="10.5" text-anchor="end" class="s">-6</text>
<line x1="41.0" y1="523.62" x2="44.3" y2="523.62" stroke="#555555" stroke-width="1"/>
<line x1="382.0" y1="523.62" x2="378.7" y2="523.62" stroke="#555555" stroke-width="1"/>
<text x="36.0" y="528.52" font-size="10.5" text-anchor="end" class="s">-4</text>
<line x1="41.0" y1="497.76" x2="44.3" y2="497.76" stroke="#555555" stroke-width="1"/>
<line x1="382.0" y1="497.76" x2="378.7" y2="497.76" stroke="#555555" stroke-width="1"/>
<text x="36.0" y="502.66" font-size="10.5" text-anchor="end" class="s">-2</text>
<line x1="41.0" y1="471.90" x2="44.3" y2="471.90" stroke="#555555" stroke-width="1"/>
<line x1="382.0" y1="471.90" x2="378.7" y2="471.90" stroke="#555555" stroke-width="1"/>
<text x="36.0" y="476.80" font-size="10.5" text-anchor="end" class="s">0</text>
<line x1="41.0" y1="446.04" x2="44.3" y2="446.04" stroke="#555555" stroke-width="1"/>
<line x1="382.0" y1="446.04" x2="378.7" y2="446.04" stroke="#555555" stroke-width="1"/>
<text x="36.0" y="450.94" font-size="10.5" text-anchor="end" class="s">2</text>
<line x1="41.0" y1="420.18" x2="44.3" y2="420.18" stroke="#555555" stroke-width="1"/>
<line x1="382.0" y1="420.18" x2="378.7" y2="420.18" stroke="#555555" stroke-width="1"/>
<text x="36.0" y="425.08" font-size="10.5" text-anchor="end" class="s">4</text>
<line x1="41.0" y1="394.32" x2="44.3" y2="394.32" stroke="#555555" stroke-width="1"/>
<line x1="382.0" y1="394.32" x2="378.7" y2="394.32" stroke="#555555" stroke-width="1"/>
<text x="36.0" y="399.22" font-size="10.5" text-anchor="end" class="s">6</text>
<line x1="41.0" y1="368.46" x2="44.3" y2="368.46" stroke="#555555" stroke-width="1"/>
<line x1="382.0" y1="368.46" x2="378.7" y2="368.46" stroke="#555555" stroke-width="1"/>
<text x="36.0" y="373.36" font-size="10.5" text-anchor="end" class="s">8</text>
<line x1="41.0" y1="342.60" x2="44.3" y2="342.60" stroke="#555555" stroke-width="1"/>
<line x1="382.0" y1="342.60" x2="378.7" y2="342.60" stroke="#555555" stroke-width="1"/>
<text x="36.0" y="347.50" font-size="10.5" text-anchor="end" class="s">10</text>
<text x="210.70" y="336.7" font-size="12.3" font-weight="bold" text-anchor="middle" class="s">Cluster 2</text>
<text x="211.50" y="607.2" font-size="12.25" text-anchor="middle" class="s">Day</text>
<text transform="translate(17.6,458.80) rotate(-90)" x="0" y="0" font-size="12.25" text-anchor="middle" class="s">CNC per million people</text>
<g clip-path="url(#clip2)">
<path d="M52.57,782.59 53.75,783.41 54.93,784.20 56.11,784.91 57.30,785.52 58.48,785.98 59.66,786.27 60.84,786.34 62.03,786.19 63.21,785.85 64.39,785.34 65.57,784.69 66.75,783.94 67.94,783.11 69.12,782.22 70.30,781.28 71.49,780.30 72.67,779.26 73.85,778.17 75.03,777.03 76.22,775.84 77.40,774.63 78.58,773.42 79.76,772.24 80.95,771.10 82.13,770.05 83.31,769.09 84.49,768.25 85.68,767.52 86.86,766.88 88.04,766.32 89.22,765.83 90.41,765.39 91.59,765.00 92.77,764.64 93.95,764.32 95.14,764.03 96.32,763.78 97.50,763.56 98.68,763.38 99.87,763.22 101.05,763.10 102.23,763.00 103.41,762.91 104.59,762.83 105.78,762.75 106.96,762.66 108.14,762.55 109.33,762.41 110.51,762.24 111.69,762.03 112.87,761.77 114.06,761.46 115.24,761.10 116.42,760.69 117.60,760.22 118.79,759.69 119.97,759.10 121.15,758.45 122.33,757.74 123.52,756.98 124.70,756.15 125.88,755.28 127.06,754.34 128.25,753.36 129.43,752.32 130.61,751.22 131.79,750.08 132.98,748.88 134.16,747.63 135.34,746.32 136.52,744.96 137.71,743.56 138.89,742.12 140.07,740.66 141.25,739.22 142.44,737.80 143.62,736.43 144.80,735.12 145.98,733.89 147.17,732.73 148.35,731.64 149.53,730.63 150.71,729.71 151.90,728.86 153.08,728.11 154.26,727.44 155.44,726.86 156.62,726.38 157.81,725.99 158.99,725.69 160.17,725.48 161.36,725.37 162.54,725.34 163.72,725.39 164.90,725.54 166.09,725.76 167.27,726.04 168.45,726.37 169.63,726.75 170.81,727.14 172.00,727.55 173.18,727.95 174.36,728.34 175.55,728.70 176.73,729.03 177.91,729.32 179.09,729.59 180.28,729.82 181.46,730.02 182.64,730.20 183.82,730.34 185.00,730.45 186.19,730.53 187.37,730.59 188.55,730.61 189.74,730.61 190.92,730.58 192.10,730.52 193.28,730.46 194.47,730.38 195.65,730.29 196.83,730.20 198.01,730.11 199.19,730.02 200.38,729.95 201.56,729.89 202.74,729.85 203.93,729.84 205.11,729.85 206.29,729.88 207.47,729.95 208.66,730.03 209.84,730.13 211.02,730.25 212.20,730.39 213.38,730.54 214.57,730.71 215.75,730.88 216.93,731.07 218.12,731.26 219.30,731.46 220.48,731.66 221.66,731.86 222.85,732.06 224.03,732.26 225.21,732.46 226.39,732.65 227.58,732.84 228.76,733.01 229.94,733.18 231.12,733.34 232.31,733.48 233.49,733.61 234.67,733.71 235.85,733.81 237.04,733.88 238.22,733.95 239.40,734.00 240.58,734.06 241.77,734.11 242.95,734.16 244.13,734.22 245.31,734.29 246.50,734.37 247.68,734.47 248.86,734.59 250.04,734.74 251.23,734.90 252.41,735.08 253.59,735.28 254.77,735.49 255.96,735.71 257.14,735.93 258.32,736.15 259.50,736.37 260.69,736.58 261.87,736.78 263.05,736.97 264.23,737.14 265.42,737.30 266.60,737.44 267.78,737.57 268.96,737.69 270.15,737.80 271.33,737.91 272.51,738.02 273.69,738.13 274.88,738.24 276.06,738.37 277.24,738.50 278.42,738.65 279.61,738.82 280.79,739.00 281.97,739.20 283.15,739.42 284.34,739.66 285.52,739.92 286.70,740.19 287.88,740.47 289.06,740.77 290.25,741.07 291.43,741.39 292.61,741.71 293.80,742.05 294.98,742.38 296.16,742.73 297.34,743.07 298.53,743.41 299.71,743.75 300.89,744.08 302.07,744.39 303.26,744.70 304.44,744.98 305.62,745.24 306.80,745.48 307.99,745.69 309.17,745.87 310.35,746.02 311.53,746.13 312.72,746.22 313.90,746.29 315.08,746.34 316.26,746.38 317.44,746.40 318.63,746.42 319.81,746.44 320.99,746.46 322.18,746.48 323.36,746.51 324.54,746.55 325.72,746.61 326.91,746.67 328.09,746.74 329.27,746.82 330.45,746.90 331.63,746.97 332.82,747.05 334.00,747.12 335.18,747.18 336.37,747.23 337.55,747.27 338.73,747.30 339.91,747.31 341.10,747.30 342.28,747.27 343.46,747.21 344.64,747.13 345.82,747.01 347.01,746.87 348.19,746.69 349.37,746.47 350.56,746.22 351.74,745.93 352.92,745.62 354.10,745.30 355.29,744.96 356.47,744.62 357.65,744.29 358.83,743.96 360.02,743.65 361.20,743.37 362.38,743.11 363.56,742.90 364.75,742.72 365.93,742.58 367.11,742.48 368.29,742.40 369.48,742.34 370.66,742.29 371.60,742.25" fill="none" stroke="#3a8ad0" stroke-width="1.1" stroke-linejoin="round"/>
<path d="M52.57,815.82 53.75,814.38 54.93,812.98 56.11,811.64 57.30,810.40 58.48,809.30 59.66,808.35 60.84,807.54 62.03,806.82 63.21,806.12 64.39,805.43 65.57,804.75 66.75,804.12 67.94,803.56 69.12,803.10 70.30,802.71 71.49,802.35 72.67,802.00 73.85,801.62 75.03,801.19 76.22,800.67 77.40,800.03 78.58,799.27 79.76,798.42 80.95,797.51 82.13,796.57 83.31,795.62 84.49,794.71 85.68,793.87 86.86,793.11 88.04,792.44 89.22,791.82 90.41,791.24 91.59,790.67 92.77,790.07 93.95,789.44 95.14,788.76 96.32,788.04 97.50,787.30 98.68,786.58 99.87,785.89 101.05,785.25 102.23,784.68 103.41,784.20 104.59,783.81 105.78,783.49 106.96,783.25 108.14,783.07 109.33,782.94 110.51,782.87 111.69,782.84 112.87,782.84 114.06,782.87 115.24,782.92 116.42,782.98 117.60,783.05 118.79,783.10 119.97,783.14 121.15,783.16 122.33,783.17 123.52,783.18 124.70,783.18 125.88,783.19 127.06,783.21 128.25,783.24 129.43,783.28 130.61,783.34 131.79,783.41 132.98,783.49 134.16,783.57 135.34,783.65 136.52,783.74 137.71,783.82 138.89,783.90 140.07,783.97 141.25,784.02 142.44,784.07 143.62,784.10 144.80,784.11 145.98,784.12 147.17,784.11 148.35,784.10 149.53,784.07 150.71,784.03 151.90,783.99 153.08,783.94 154.26,783.88 155.44,783.81 156.62,783.74 157.81,783.66 158.99,783.57 160.17,783.49 161.36,783.39 162.54,783.30 163.72,783.20 164.90,783.09 166.09,782.99 167.27,782.88 168.45,782.77 169.63,782.66 170.81,782.55 172.00,782.44 173.18,782.33 174.36,782.22 175.55,782.12 176.73,782.01 177.91,781.91 179.09,781.81 180.28,781.72 181.46,781.64 182.64,781.57 183.82,781.51 185.00,781.46 186.19,781.43 187.37,781.42 188.55,781.42 189.74,781.44 190.92,781.48 192.10,781.54 193.28,781.61 194.47,781.70 195.65,781.80 196.83,781.90 198.01,782.01 199.19,782.13 200.38,782.25 201.56,782.37 202.74,782.49 203.93,782.60 205.11,782.70 206.29,782.80 207.47,782.87 208.66,782.93 209.84,782.97 211.02,782.98 212.20,782.97 213.38,782.93 214.57,782.85 215.75,782.74 216.93,782.59 218.12,782.41 219.30,782.19 220.48,781.94 221.66,781.66 222.85,781.34 224.03,781.00 225.21,780.62 226.39,780.22 227.58,779.79 228.76,779.32 229.94,778.84 231.12,778.33 232.31,777.80 233.49,777.25 234.67,776.70 235.85,776.15 237.04,775.60 238.22,775.05 239.40,774.52 240.58,774.00 241.77,773.50 242.95,773.03 244.13,772.59 245.31,772.19 246.50,771.81 247.68,771.47 248.86,771.17 250.04,770.89 251.23,770.65 252.41,770.43 253.59,770.25 254.77,770.09 255.96,769.96 257.14,769.86 258.32,769.79 259.50,769.74 260.69,769.72 261.87,769.72 263.05,769.74 264.23,769.78 265.42,769.83 266.60,769.89 267.78,769.96 268.96,770.03 270.15,770.11 271.33,770.19 272.51,770.27 273.69,770.35 274.88,770.42 276.06,770.48 277.24,770.52 278.42,770.55 279.61,770.57 280.79,770.56 281.97,770.53 283.15,770.48 284.34,770.41 285.52,770.32 286.70,770.22 287.88,770.09 289.06,769.96 290.25,769.80 291.43,769.64 292.61,769.46 293.80,769.26 294.98,769.06 296.16,768.85 297.34,768.62 298.53,768.38 299.71,768.13 300.89,767.87 302.07,767.58 303.26,767.29 304.44,766.97 305.62,766.64 306.80,766.29 307.99,765.92 309.17,765.52 310.35,765.11 311.53,764.68 312.72,764.24 313.90,763.79 315.08,763.33 316.26,762.88 317.44,762.43 318.63,761.99 319.81,761.56 320.99,761.16 322.18,760.77 323.36,760.42 324.54,760.09 325.72,759.80 326.91,759.54 328.09,759.31 329.27,759.10 330.45,758.92 331.63,758.77 332.82,758.63 334.00,758.52 335.18,758.43 336.37,758.36 337.55,758.31 338.73,758.27 339.91,758.24 341.10,758.23 342.28,758.22 343.46,758.22 344.64,758.21 345.82,758.21 347.01,758.20 348.19,758.18 349.37,758.15 350.56,758.10 351.74,758.04 352.92,757.96 354.10,757.87 355.29,757.77 356.47,757.66 357.65,757.53 358.83,757.39 360.02,757.24 361.20,757.08 362.38,756.91 363.56,756.73 364.75,756.54 365.93,756.34 367.11,756.13 368.29,755.92 369.48,755.70 370.66,755.48 371.60,755.31" fill="none" stroke="#e0703a" stroke-width="1.1" stroke-linejoin="round"/>
<path d="M52.57,819.05 53.75,818.43 54.93,817.86 56.11,817.42 57.30,817.16 58.48,817.11 59.66,817.24 60.84,817.51 62.03,817.91 63.21,818.41 64.39,818.97 65.57,819.58 66.75,820.24 67.94,820.94 69.12,821.66 70.30,822.39 71.49,823.13 72.67,823.87 73.85,824.60 75.03,825.30 76.22,825.96 77.40,826.59 78.58,827.15 79.76,827.66 80.95,828.09 82.13,828.43 83.31,828.68 84.49,828.84 85.68,828.90 86.86,828.87 88.04,828.73 89.22,828.48 90.41,828.13 91.59,827.66 92.77,827.08 93.95,826.40 95.14,825.64 96.32,824.83 97.50,824.01 98.68,823.20 99.87,822.43 101.05,821.73 102.23,821.09 103.41,820.49 104.59,819.90 105.78,819.31 106.96,818.70 108.14,818.04 109.33,817.32 110.51,816.54 111.69,815.73 112.87,814.93 114.06,814.17 115.24,813.47 116.42,812.85 117.60,812.29 118.79,811.79 119.97,811.34 121.15,810.94 122.33,810.57 123.52,810.23 124.70,809.91 125.88,809.60 127.06,809.29 128.25,808.99 129.43,808.69 130.61,808.39 131.79,808.11 132.98,807.84 134.16,807.59 135.34,807.37 136.52,807.17 137.71,807.01 138.89,806.87 140.07,806.77 141.25,806.69 142.44,806.64 143.62,806.62 144.80,806.63 145.98,806.67 147.17,806.73 148.35,806.79 149.53,806.86 150.71,806.90 151.90,806.93 153.08,806.91 154.26,806.85 155.44,806.73 156.62,806.53 157.81,806.26 158.99,805.89 160.17,805.43 161.36,804.89 162.54,804.28 163.72,803.61 164.90,802.89 166.09,802.12 167.27,801.30 168.45,800.41 169.63,799.43 170.81,798.35 172.00,797.18 173.18,795.96 174.36,794.73 175.55,793.52 176.73,792.33 177.91,791.17 179.09,790.03 180.28,788.91 181.46,787.81 182.64,786.73 183.82,785.67 185.00,784.64 186.19,783.64 187.37,782.68 188.55,781.77 189.74,780.92 190.92,780.13 192.10,779.38 193.28,778.69 194.47,778.04 195.65,777.44 196.83,776.87 198.01,776.34 199.19,775.84 200.38,775.37 201.56,774.93 202.74,774.51 203.93,774.11 205.11,773.72 206.29,773.36 207.47,773.03 208.66,772.73 209.84,772.47 211.02,772.26 212.20,772.11 213.38,772.01 214.57,771.98 215.75,772.01 216.93,772.11 218.12,772.27 219.30,772.49 220.48,772.76 221.66,773.10 222.85,773.47 224.03,773.88 225.21,774.30 226.39,774.73 227.58,775.14 228.76,775.53 229.94,775.89 231.12,776.22 232.31,776.52 233.49,776.81 234.67,777.09 235.85,777.38 237.04,777.68 238.22,778.00 239.40,778.35 240.58,778.74 241.77,779.18 242.95,779.68 244.13,780.24 245.31,780.86 246.50,781.52 247.68,782.19 248.86,782.85 250.04,783.48 251.23,784.07 252.41,784.63 253.59,785.17 254.77,785.68 255.96,786.18 257.14,786.67 258.32,787.15 259.50,787.64 260.69,788.12 261.87,788.62 263.05,789.13 264.23,789.66 265.42,790.21 266.60,790.78 267.78,791.36 268.96,791.96 270.15,792.57 271.33,793.19 272.51,793.82 273.69,794.45 274.88,795.07 276.06,795.70 277.24,796.32 278.42,796.94 279.61,797.54 280.79,798.14 281.97,798.73 283.15,799.31 284.34,799.89 285.52,800.47 286.70,801.04 287.88,801.61 289.06,802.18 290.25,802.75 291.43,803.31 292.61,803.88 293.80,804.43 294.98,804.96 296.16,805.48 297.34,805.96 298.53,806.42 299.71,806.84 300.89,807.22 302.07,807.57 303.26,807.87 304.44,808.13 305.62,808.35 306.80,808.51 307.99,808.62 309.17,808.69 310.35,808.72 311.53,808.71 312.72,808.66 313.90,808.58 315.08,808.47 316.26,808.34 317.44,808.19 318.63,808.02 319.81,807.83 320.99,807.63 322.18,807.43 323.36,807.23 324.54,807.02 325.72,806.81 326.91,806.61 328.09,806.41 329.27,806.22 330.45,806.04 331.63,805.88 332.82,805.73 334.00,805.60 335.18,805.49 336.37,805.41 337.55,805.35 338.73,805.31 339.91,805.27 341.10,805.25 342.28,805.22 343.46,805.20 344.64,805.17 345.82,805.13 347.01,805.08 348.19,805.00 349.37,804.90 350.56,804.78 351.74,804.62 352.92,804.44 354.10,804.23 355.29,804.01 356.47,803.78 357.65,803.54 358.83,803.29 360.02,803.04 361.20,802.78 362.38,802.52 363.56,802.26 364.75,802.00 365.93,801.73 367.11,801.46 368.29,801.19 369.48,800.92 370.66,800.65 371.60,800.43" fill="none" stroke="#f0b830" stroke-width="1.1" stroke-linejoin="round"/>
<path d="M52.57,815.82 53.75,814.67 54.93,813.54 56.11,812.43 57.30,811.35 58.48,810.32 59.66,809.36 60.84,808.46 62.03,807.64 63.21,806.92 64.39,806.31 65.57,805.83 66.75,805.48 67.94,805.27 69.12,805.22 70.30,805.32 71.49,805.59 72.67,806.02 73.85,806.63 75.03,807.40 76.22,808.32 77.40,809.34 78.58,810.42 79.76,811.52 80.95,812.59 82.13,813.60 83.31,814.54 84.49,815.43 85.68,816.25 86.86,817.02 88.04,817.74 89.22,818.41 90.41,819.02 91.59,819.57 92.77,820.03 93.95,820.39 95.14,820.65 96.32,820.78 97.50,820.77 98.68,820.60 99.87,820.26 101.05,819.75 102.23,819.07 103.41,818.23 104.59,817.24 105.78,816.10 106.96,814.84 108.14,813.45 109.33,811.94 110.51,810.33 111.69,808.66 112.87,806.95 114.06,805.23 115.24,803.56 116.42,801.95 117.60,800.45 118.79,799.10 119.97,797.92 121.15,796.92 122.33,796.09 123.52,795.41 124.70,794.85 125.88,794.39 127.06,794.02 128.25,793.70 129.43,793.41 130.61,793.16 131.79,792.94 132.98,792.75 134.16,792.60 135.34,792.49 136.52,792.42 137.71,792.39 138.89,792.39 140.07,792.41 141.25,792.44 142.44,792.46 143.62,792.46 144.80,792.43 145.98,792.35 147.17,792.24 148.35,792.09 149.53,791.91 150.71,791.71 151.90,791.50 153.08,791.29 154.26,791.07 155.44,790.87 156.62,790.67 157.81,790.50 158.99,790.33 160.17,790.18 161.36,790.05 162.54,789.93 163.72,789.82 164.90,789.72 166.09,789.64 167.27,789.56 168.45,789.50 169.63,789.45 170.81,789.41 172.00,789.38 173.18,789.36 174.36,789.35 175.55,789.35 176.73,789.35 177.91,789.36 179.09,789.38 180.28,789.40 181.46,789.43 182.64,789.46 183.82,789.50 185.00,789.53 186.19,789.56 187.37,789.57 188.55,789.57 189.74,789.54 190.92,789.49 192.10,789.41 193.28,789.30 194.47,789.14 195.65,788.94 196.83,788.69 198.01,788.40 199.19,788.07 200.38,787.72 201.56,787.37 202.74,787.03 203.93,786.72 205.11,786.44 206.29,786.20 207.47,785.99 208.66,785.82 209.84,785.68 211.02,785.57 212.20,785.48 213.38,785.40 214.57,785.34 215.75,785.29 216.93,785.24 218.12,785.20 219.30,785.16 220.48,785.11 221.66,785.05 222.85,784.98 224.03,784.89 225.21,784.80 226.39,784.70 227.58,784.59 228.76,784.47 229.94,784.35 231.12,784.22 232.31,784.09 233.49,783.95 234.67,783.82 235.85,783.68 237.04,783.54 238.22,783.41 239.40,783.27 240.58,783.13 241.77,782.99 242.95,782.83 244.13,782.67 245.31,782.49 246.50,782.30 247.68,782.10 248.86,781.88 250.04,781.64 251.23,781.37 252.41,781.09 253.59,780.79 254.77,780.47 255.96,780.16 257.14,779.84 258.32,779.54 259.50,779.24 260.69,778.97 261.87,778.72 263.05,778.50 264.23,778.31 265.42,778.15 266.60,778.02 267.78,777.91 268.96,777.81 270.15,777.72 271.33,777.63 272.51,777.55 273.69,777.47 274.88,777.38 276.06,777.28 277.24,777.16 278.42,777.02 279.61,776.88 280.79,776.72 281.97,776.58 283.15,776.45 284.34,776.34 285.52,776.26 286.70,776.22 287.88,776.22 289.06,776.29 290.25,776.42 291.43,776.61 292.61,776.86 293.80,777.16 294.98,777.49 296.16,777.83 297.34,778.19 298.53,778.53 299.71,778.86 300.89,779.15 302.07,779.40 303.26,779.60 304.44,779.75 305.62,779.86 306.80,779.92 307.99,779.94 309.17,779.93 310.35,779.89 311.53,779.83 312.72,779.74 313.90,779.63 315.08,779.51 316.26,779.38 317.44,779.24 318.63,779.10 319.81,778.97 320.99,778.83 322.18,778.71 323.36,778.60 324.54,778.51 325.72,778.43 326.91,778.37 328.09,778.33 329.27,778.29 330.45,778.27 331.63,778.26 332.82,778.26 334.00,778.26 335.18,778.28 336.37,778.29 337.55,778.31 338.73,778.33 339.91,778.36 341.10,778.38 342.28,778.40 343.46,778.43 344.64,778.46 345.82,778.49 347.01,778.52 348.19,778.55 349.37,778.59 350.56,778.63 351.74,778.68 352.92,778.77 354.10,778.89 355.29,779.07 356.47,779.30 357.65,779.62 358.83,780.01 360.02,780.47 361.20,780.97 362.38,781.50 363.56,782.02 364.75,782.52 365.93,782.98 367.11,783.37 368.29,783.68 369.48,783.89 370.66,784.03 371.84,784.14" fill="none" stroke="#e0703a" stroke-width="1.1" stroke-dasharray="8.5 5" stroke-linejoin="round"/>
<path d="M52.57,813.88 53.75,812.81 54.93,811.74 56.11,810.66 57.30,809.59 58.48,808.50 59.66,807.42 60.84,806.32 62.03,805.23 63.21,804.14 64.39,803.06 65.57,802.00 66.75,800.95 67.94,799.93 69.12,798.94 70.30,797.97 71.49,797.03 72.67,796.11 73.85,795.22 75.03,794.36 76.22,793.52 77.40,792.70 78.58,791.90 79.76,791.10 80.95,790.32 82.13,789.55 83.31,788.79 84.49,788.06 85.68,787.37 86.86,786.72 88.04,786.13 89.22,785.59 90.41,785.09 91.59,784.61 92.77,784.14 93.95,783.67 95.14,783.22 96.32,782.79 97.50,782.40 98.68,782.07 99.87,781.81 101.05,781.64 102.23,781.54 103.41,781.50 104.59,781.49 105.78,781.51 106.96,781.54 108.14,781.56 109.33,781.56 110.51,781.52 111.69,781.44 112.87,781.34 114.06,781.22 115.24,781.07 116.42,780.91 117.60,780.75 118.79,780.58 119.97,780.42 121.15,780.26 122.33,780.12 123.52,779.99 124.70,779.86 125.88,779.74 127.06,779.63 128.25,779.51 129.43,779.39 130.61,779.26 131.79,779.12 132.98,778.97 134.16,778.80 135.34,778.63 136.52,778.44 137.71,778.24 138.89,778.04 140.07,777.83 141.25,777.63 142.44,777.42 143.62,777.22 144.80,777.03 145.98,776.85 147.17,776.67 148.35,776.50 149.53,776.34 150.71,776.18 151.90,776.02 153.08,775.87 154.26,775.72 155.44,775.57 156.62,775.41 157.81,775.25 158.99,775.09 160.17,774.92 161.36,774.75 162.54,774.58 163.72,774.41 164.90,774.24 166.09,774.08 167.27,773.92 168.45,773.77 169.63,773.63 170.81,773.50 172.00,773.38 173.18,773.28 174.36,773.20 175.55,773.13 176.73,773.08 177.91,773.04 179.09,773.01 180.28,773.00 181.46,772.99 182.64,772.99 183.82,773.00 185.00,773.01 186.19,773.03 187.37,773.06 188.55,773.08 189.74,773.11 190.92,773.13 192.10,773.15 193.28,773.17 194.47,773.19 195.65,773.21 196.83,773.23 198.01,773.26 199.19,773.30 200.38,773.34 201.56,773.40 202.74,773.47 203.93,773.56 205.11,773.67 206.29,773.80 207.47,773.95 208.66,774.12 209.84,774.31 211.02,774.51 212.20,774.73 213.38,774.96 214.57,775.19 215.75,775.43 216.93,775.67 218.12,775.91 219.30,776.15 220.48,776.38 221.66,776.61 222.85,776.82 224.03,777.03 225.21,777.23 226.39,777.42 227.58,777.60 228.76,777.77 229.94,777.94 231.12,778.10 232.31,778.24 233.49,778.39 234.67,778.52 235.85,778.64 237.04,778.76 238.22,778.87 239.40,778.97 240.58,779.06 241.77,779.15 242.95,779.23 244.13,779.30 245.31,779.37 246.50,779.43 247.68,779.48 248.86,779.53 250.04,779.58 251.23,779.62 252.41,779.65 253.59,779.69 254.77,779.72 255.96,779.75 257.14,779.77 258.32,779.79 259.50,779.81 260.69,779.83 261.87,779.84 263.05,779.85 264.23,779.85 265.42,779.84 266.60,779.82 267.78,779.80 268.96,779.77 270.15,779.73 271.33,779.68 272.51,779.62 273.69,779.54 274.88,779.45 276.06,779.33 277.24,779.18 278.42,778.99 279.61,778.75 280.79,778.45 281.97,778.09 283.15,777.67 284.34,777.16 285.52,776.57 286.70,775.92 287.88,775.20 289.06,774.44 290.25,773.65 291.43,772.84 292.61,772.03 293.80,771.22 294.98,770.44 296.16,769.70 297.34,769.00 298.53,768.37 299.71,767.81 300.89,767.32 302.07,766.89 303.26,766.52 304.44,766.21 305.62,765.94 306.80,765.71 307.99,765.52 309.17,765.35 310.35,765.21 311.53,765.09 312.72,764.97 313.90,764.86 315.08,764.75 316.26,764.63 317.44,764.50 318.63,764.37 319.81,764.23 320.99,764.09 322.18,763.94 323.36,763.78 324.54,763.62 325.72,763.45 326.91,763.28 328.09,763.10 329.27,762.92 330.45,762.74 331.63,762.55 332.82,762.36 334.00,762.16 335.18,761.96 336.37,761.76 337.55,761.57 338.73,761.37 339.91,761.19 341.10,761.01 342.28,760.84 343.46,760.68 344.64,760.53 345.82,760.40 347.01,760.30 348.19,760.21 349.37,760.14 350.56,760.10 351.74,760.08 352.92,760.10 354.10,760.14 355.29,760.22 356.47,760.33 357.65,760.47 358.83,760.64 360.02,760.81 361.20,761.00 362.38,761.18 363.56,761.35 364.75,761.51 365.93,761.66 367.11,761.78 368.29,761.89 369.48,761.98 370.66,762.07 371.84,762.16" fill="none" stroke="#f0b830" stroke-width="1.1" stroke-dasharray="8.5 5" stroke-linejoin="round"/>
<path d="M52.57,794.62 53.75,794.79 54.93,794.99 56.11,795.21 57.30,795.47 58.48,795.78 59.66,796.17 60.84,796.63 62.03,797.13 63.21,797.65 64.39,798.15 65.57,798.60 66.75,798.96 67.94,799.21 69.12,799.37 70.30,799.42 71.49,799.37 72.67,799.22 73.85,798.99 75.03,798.70 76.22,798.37 77.40,798.00 78.58,797.60 79.76,797.18 80.95,796.74 82.13,796.28 83.31,795.81 84.49,795.33 85.68,794.83 86.86,794.32 88.04,793.80 89.22,793.25 90.41,792.69 91.59,792.11 92.77,791.51 93.95,790.89 95.14,790.26 96.32,789.62 97.50,788.98 98.68,788.36 99.87,787.75 101.05,787.17 102.23,786.63 103.41,786.14 104.59,785.69 105.78,785.31 106.96,784.98 108.14,784.70 109.33,784.47 110.51,784.28 111.69,784.12 112.87,783.99 114.06,783.89 115.24,783.81 116.42,783.75 117.60,783.69 118.79,783.64 119.97,783.58 121.15,783.52 122.33,783.45 123.52,783.37 124.70,783.27 125.88,783.15 127.06,782.99 128.25,782.81 129.43,782.59 130.61,782.33 131.79,782.02 132.98,781.67 134.16,781.26 135.34,780.79 136.52,780.28 137.71,779.72 138.89,779.13 140.07,778.52 141.25,777.87 142.44,777.22 143.62,776.55 144.80,775.88 145.98,775.21 147.17,774.55 148.35,773.90 149.53,773.28 150.71,772.69 151.90,772.13 153.08,771.62 154.26,771.15 155.44,770.74 156.62,770.39 157.81,770.10 158.99,769.90 160.17,769.77 161.36,769.73 162.54,769.77 163.72,769.88 164.90,770.06 166.09,770.29 167.27,770.59 168.45,770.93 169.63,771.31 170.81,771.72 172.00,772.17 173.18,772.64 174.36,773.11 175.55,773.59 176.73,774.06 177.91,774.51 179.09,774.92 180.28,775.30 181.46,775.62 182.64,775.89 183.82,776.09 185.00,776.22 186.19,776.31 187.37,776.33 188.55,776.31 189.74,776.24 190.92,776.13 192.10,775.97 193.28,775.78 194.47,775.56 195.65,775.30 196.83,775.02 198.01,774.70 199.19,774.37 200.38,774.01 201.56,773.63 202.74,773.24 203.93,772.83 205.11,772.40 206.29,771.97 207.47,771.52 208.66,771.07 209.84,770.61 211.02,770.16 212.20,769.71 213.38,769.28 214.57,768.86 215.75,768.46 216.93,768.09 218.12,767.74 219.30,767.44 220.48,767.17 221.66,766.95 222.85,766.77 224.03,766.63 225.21,766.53 226.39,766.46 227.58,766.39 228.76,766.34 229.94,766.29 231.12,766.22 232.31,766.15 233.49,766.04 234.67,765.90 235.85,765.74 237.04,765.54 238.22,765.33 239.40,765.10 240.58,764.86 241.77,764.61 242.95,764.35 244.13,764.10 245.31,763.84 246.50,763.60 247.68,763.37 248.86,763.15 250.04,762.96 251.23,762.77 252.41,762.61 253.59,762.46 254.77,762.33 255.96,762.21 257.14,762.11 258.32,762.02 259.50,761.94 260.69,761.88 261.87,761.84 263.05,761.80 264.23,761.78 265.42,761.77 266.60,761.78 267.78,761.79 268.96,761.81 270.15,761.85 271.33,761.89 272.51,761.93 273.69,761.98 274.88,762.04 276.06,762.10 277.24,762.16 278.42,762.22 279.61,762.29 280.79,762.35 281.97,762.41 283.15,762.47 284.34,762.53 285.52,762.58 286.70,762.63 287.88,762.68 289.06,762.71 290.25,762.75 291.43,762.77 292.61,762.79 293.80,762.80 294.98,762.79 296.16,762.78 297.34,762.76 298.53,762.72 299.71,762.67 300.89,762.61 302.07,762.53 303.26,762.44 304.44,762.33 305.62,762.21 306.80,762.07 307.99,761.92 309.17,761.75 310.35,761.57 311.53,761.37 312.72,761.15 313.90,760.92 315.08,760.67 316.26,760.41 317.44,760.12 318.63,759.83 319.81,759.51 320.99,759.17 322.18,758.82 323.36,758.44 324.54,758.05 325.72,757.63 326.91,757.19 328.09,756.73 329.27,756.25 330.45,755.77 331.63,755.32 332.82,754.93 334.00,754.63 335.18,754.43 336.37,754.35 337.55,754.38 338.73,754.51 339.91,754.73 341.10,755.05 342.28,755.44 343.46,755.91 344.64,756.45 345.82,757.04 347.01,757.68 348.19,758.37 349.37,759.10 350.56,759.85 351.74,760.63 352.92,761.42 354.10,762.22 355.29,763.01 356.47,763.75 357.65,764.42 358.83,764.97 360.02,765.37 361.20,765.59 362.38,765.57 363.56,765.25 364.75,764.57 365.93,763.46 367.11,761.84 368.29,759.74 369.48,757.27 370.66,754.57 371.60,752.33" fill="none" stroke="#a050c0" stroke-width="1.1" stroke-dasharray="8.5 5" stroke-linejoin="round"/>
<path d="M52.57,795.78 53.75,796.34 54.93,796.85 56.11,797.27 57.30,797.54 58.48,797.62 59.66,797.46 60.84,797.03 62.03,796.39 63.21,795.62 64.39,794.79 65.57,794.00 66.75,793.31 67.94,792.72 69.12,792.15 70.30,791.54 71.49,790.82 72.67,789.96 73.85,789.04 75.03,788.11 76.22,787.25 77.40,786.49 78.58,785.84 79.76,785.30 80.95,784.86 82.13,784.50 83.31,784.23 84.49,784.03 85.68,783.89 86.86,783.82 88.04,783.80 89.22,783.84 90.41,783.92 91.59,784.05 92.77,784.19 93.95,784.34 95.14,784.48 96.32,784.59 97.50,784.67 98.68,784.71 99.87,784.73 101.05,784.73 102.23,784.70 103.41,784.67 104.59,784.62 105.78,784.56 106.96,784.51 108.14,784.45 109.33,784.40 110.51,784.36 111.69,784.32 112.87,784.30 114.06,784.28 115.24,784.27 116.42,784.26 117.60,784.25 118.79,784.25 119.97,784.26 121.15,784.26 122.33,784.27 123.52,784.28 124.70,784.29 125.88,784.29 127.06,784.30 128.25,784.30 129.43,784.30 130.61,784.30 131.79,784.29 132.98,784.28 134.16,784.26 135.34,784.24 136.52,784.21 137.71,784.18 138.89,784.16 140.07,784.14 141.25,784.12 142.44,784.12 143.62,784.12 144.80,784.14 145.98,784.18 147.17,784.22 148.35,784.27 149.53,784.32 150.71,784.36 151.90,784.38 153.08,784.38 154.26,784.35 155.44,784.29 156.62,784.18 157.81,784.03 158.99,783.83 160.17,783.57 161.36,783.24 162.54,782.86 163.72,782.44 164.90,781.99 166.09,781.52 167.27,781.03 168.45,780.55 169.63,780.07 170.81,779.62 172.00,779.19 173.18,778.80 174.36,778.44 175.55,778.12 176.73,777.82 177.91,777.55 179.09,777.30 180.28,777.07 181.46,776.85 182.64,776.65 183.82,776.47 185.00,776.29 186.19,776.13 187.37,775.96 188.55,775.80 189.74,775.64 190.92,775.48 192.10,775.32 193.28,775.16 194.47,775.01 195.65,774.86 196.83,774.73 198.01,774.60 199.19,774.48 200.38,774.38 201.56,774.30 202.74,774.23 203.93,774.18 205.11,774.14 206.29,774.11 207.47,774.05 208.66,773.96 209.84,773.81 211.02,773.59 212.20,773.27 213.38,772.87 214.57,772.38 215.75,771.84 216.93,771.27 218.12,770.67 219.30,770.08 220.48,769.50 221.66,768.96 222.85,768.48 224.03,768.07 225.21,767.76 226.39,767.56 227.58,767.49 228.76,767.52 229.94,767.64 231.12,767.84 232.31,768.09 233.49,768.39 234.67,768.70 235.85,769.02 237.04,769.32 238.22,769.61 239.40,769.88 240.58,770.13 241.77,770.35 242.95,770.56 244.13,770.75 245.31,770.92 246.50,771.06 247.68,771.19 248.86,771.30 250.04,771.38 251.23,771.46 252.41,771.53 253.59,771.59 254.77,771.65 255.96,771.71 257.14,771.78 258.32,771.86 259.50,771.95 260.69,772.06 261.87,772.19 263.05,772.35 264.23,772.54 265.42,772.76 266.60,773.02 267.78,773.32 268.96,773.65 270.15,774.01 271.33,774.40 272.51,774.82 273.69,775.26 274.88,775.73 276.06,776.22 277.24,776.74 278.42,777.27 279.61,777.81 280.79,778.36 281.97,778.90 283.15,779.42 284.34,779.92 285.52,780.37 286.70,780.78 287.88,781.12 289.06,781.40 290.25,781.59 291.43,781.69 292.61,781.71 293.80,781.66 294.98,781.55 296.16,781.38 297.34,781.17 298.53,780.93 299.71,780.65 300.89,780.36 302.07,780.06 303.26,779.76 304.44,779.47 305.62,779.20 306.80,778.96 307.99,778.75 309.17,778.58 310.35,778.47 311.53,778.41 312.72,778.39 313.90,778.41 315.08,778.46 316.26,778.54 317.44,778.64 318.63,778.76 319.81,778.90 320.99,779.04 322.18,779.19 323.36,779.33 324.54,779.47 325.72,779.59 326.91,779.72 328.09,779.83 329.27,779.94 330.45,780.05 331.63,780.16 332.82,780.27 334.00,780.37 335.18,780.48 336.37,780.59 337.55,780.71 338.73,780.83 339.91,780.95 341.10,781.08 342.28,781.22 343.46,781.35 344.64,781.49 345.82,781.63 347.01,781.76 348.19,781.89 349.37,782.02 350.56,782.15 351.74,782.27 352.92,782.38 354.10,782.49 355.29,782.59 356.47,782.68 357.65,782.76 358.83,782.83 360.02,782.90 361.20,782.96 362.38,783.02 363.56,783.07 364.75,783.11 365.93,783.16 367.11,783.20 368.06,783.24" fill="none" stroke="#7cb840" stroke-width="1.1" stroke-dasharray="8.5 5" stroke-linejoin="round"/>
<path d="M52.57,766.17 53.75,762.19 54.93,758.33 56.11,754.73 57.30,751.50 58.48,748.76 59.66,746.50 60.84,744.65 62.03,743.15 63.21,741.94 64.39,740.96 65.57,740.14 66.75,739.48 67.94,738.98 69.12,738.65 70.30,738.51 71.49,738.55 72.67,738.77 73.85,739.12 75.03,739.58 76.22,740.11 77.40,740.69 78.58,741.27 79.76,741.84 80.95,742.34 82.13,742.78 83.31,743.16 84.49,743.50 85.68,743.81 86.86,744.12 88.04,744.44 89.22,744.78 90.41,745.18 91.59,745.61 92.77,746.01 93.95,746.32 95.14,746.47 96.32,746.38 97.50,745.99 98.68,745.35 99.87,744.60 101.05,743.86 102.23,743.17 103.41,742.50 104.59,741.85 105.78,741.19 106.96,740.50 108.14,739.78 109.33,739.00 110.51,738.15 111.69,737.23 112.87,736.26 114.06,735.28 115.24,734.29 116.42,733.31 117.60,732.36 118.79,731.44 119.97,730.56 121.15,729.72 122.33,728.93 123.52,728.20 124.70,727.54 125.88,726.95 127.06,726.45 128.25,726.03 129.43,725.71 130.61,725.47 131.79,725.32 132.98,725.24 134.16,725.23 135.34,725.26 136.52,725.34 137.71,725.45 138.89,725.59 140.07,725.75 141.25,725.91 142.44,726.07 143.62,726.22 144.80,726.34 145.98,726.45 147.17,726.53 148.35,726.58 149.53,726.60 150.71,726.59 151.90,726.55 153.08,726.48 154.26,726.37 155.44,726.22 156.62,726.03 157.81,725.81 158.99,725.59 160.17,725.36 161.36,725.16 162.54,724.99 163.72,724.86 164.90,724.79 166.09,724.80 167.27,724.90 168.45,725.07 169.63,725.31 170.81,725.62 172.00,726.00 173.18,726.42 174.36,726.89 175.55,727.40 176.73,727.95 177.91,728.51 179.09,729.08 180.28,729.64 181.46,730.20 182.64,730.72 183.82,731.22 185.00,731.66 186.19,732.05 187.37,732.37 188.55,732.61 189.74,732.76 190.92,732.82 192.10,732.80 193.28,732.72 194.47,732.59 195.65,732.40 196.83,732.19 198.01,731.95 199.19,731.71 200.38,731.46 201.56,731.23 202.74,731.02 203.93,730.84 205.11,730.70 206.29,730.62 207.47,730.58 208.66,730.61 209.84,730.70 211.02,730.85 212.20,731.08 213.38,731.38 214.57,731.77 215.75,732.24 216.93,732.80 218.12,733.46 219.30,734.21 220.48,735.03 221.66,735.91 222.85,736.80 224.03,737.68 225.21,738.53 226.39,739.31 227.58,740.02 228.76,740.61 229.94,741.07 231.12,741.38 232.31,741.50 233.49,741.44 234.67,741.21 235.85,740.85 237.04,740.38 238.22,739.81 239.40,739.19 240.58,738.53 241.77,737.85 242.95,737.18 244.13,736.51 245.31,735.83 246.50,735.13 247.68,734.40 248.86,733.62 250.04,732.79 251.23,731.91 252.41,731.00 253.59,730.07 254.77,729.13 255.96,728.20 257.14,727.29 258.32,726.42 259.50,725.60 260.69,724.83 261.87,724.15 263.05,723.55 264.23,723.06 265.42,722.67 266.60,722.37 267.78,722.15 268.96,721.99 270.15,721.88 271.33,721.81 272.51,721.76 273.69,721.74 274.88,721.74 276.06,721.76 277.24,721.81 278.42,721.88 279.61,721.98 280.79,722.10 281.97,722.25 283.15,722.41 284.34,722.58 285.52,722.74 286.70,722.90 287.88,723.05 289.06,723.17 290.25,723.26 291.43,723.31 292.61,723.34 293.80,723.34 294.98,723.33 296.16,723.31 297.34,723.28 298.53,723.25 299.71,723.24 300.89,723.23 302.07,723.25 303.26,723.28 304.44,723.34 305.62,723.40 306.80,723.47 307.99,723.54 309.17,723.59 310.35,723.63 311.53,723.64 312.72,723.62 313.90,723.56 315.08,723.46 316.26,723.30 317.44,723.09 318.63,722.81 319.81,722.46 320.99,722.07 322.18,721.62 323.36,721.14 324.54,720.63 325.72,720.10 326.91,719.54 328.09,718.97 329.27,718.38 330.45,717.79 331.63,717.18 332.82,716.57 334.00,715.96 335.18,715.35 336.37,714.75 337.55,714.15 338.73,713.57 339.91,713.01 341.10,712.47 342.28,711.95 343.46,711.48 344.64,711.05 345.82,710.67 347.01,710.34 348.19,710.08 349.37,709.89 350.56,709.77 351.74,709.72 352.92,709.72 354.10,709.78 355.29,709.88 356.47,710.01 357.65,710.17 358.83,710.35 360.02,710.56 361.20,710.79 362.38,711.04 363.56,711.31 364.75,711.58 365.93,711.86 367.11,712.15 368.06,712.38" fill="none" stroke="#6aa830" stroke-width="1.1" stroke-dasharray="8.5 5" stroke-linejoin="round"/>
<circle cx="52.57" cy="766.17" r="1.6" fill="#6aa830"/>
<circle cx="90.41" cy="745.13" r="1.6" fill="#6aa830"/>
<circle cx="128.25" cy="726.11" r="1.6" fill="#6aa830"/>
<circle cx="166.09" cy="724.85" r="1.6" fill="#6aa830"/>
<circle cx="203.93" cy="730.91" r="1.6" fill="#6aa830"/>
<circle cx="241.77" cy="737.85" r="1.6" fill="#6aa830"/>
<circle cx="279.61" cy="722.05" r="1.6" fill="#6aa830"/>
<circle cx="317.44" cy="722.99" r="1.6" fill="#6aa830"/>
<circle cx="355.29" cy="709.92" r="1.6" fill="#6aa830"/>
<path d="M52.57,822.93 53.75,820.50 54.93,818.03 56.11,815.47 57.30,812.77 58.48,809.90 59.66,806.81 60.84,803.46 62.03,799.91 63.21,796.41 64.39,793.19 65.57,790.43 66.75,788.05 67.94,785.94 69.12,783.95 70.30,781.96 71.49,779.86 72.67,777.67 73.85,775.44 75.03,773.26 76.22,771.20 77.40,769.33 78.58,767.67 79.76,766.20 80.95,764.88 82.13,763.69 83.31,762.59 84.49,761.57 85.68,760.66 86.86,759.86 88.04,759.23 89.22,758.78 90.41,758.54 91.59,758.53 92.77,758.69 93.95,758.98 95.14,759.34 96.32,759.71 97.50,760.02 98.68,760.25 99.87,760.40 101.05,760.49 102.23,760.55 103.41,760.58 104.59,760.61 105.78,760.65 106.96,760.70 108.14,760.75 109.33,760.80 110.51,760.85 111.69,760.89 112.87,760.90 114.06,760.86 115.24,760.74 116.42,760.52 117.60,760.18 118.79,759.69 119.97,759.04 121.15,758.23 122.33,757.30 123.52,756.28 124.70,755.21 125.88,754.13 127.06,753.05 128.25,752.02 129.43,751.06 130.61,750.18 131.79,749.39 132.98,748.67 134.16,748.03 135.34,747.47 136.52,746.97 137.71,746.55 138.89,746.20 140.07,745.92 141.25,745.70 142.44,745.55 143.62,745.45 144.80,745.42 145.98,745.44 147.17,745.50 148.35,745.62 149.53,745.78 150.71,745.99 151.90,746.23 153.08,746.51 154.26,746.82 155.44,747.16 156.62,747.53 157.81,747.92 158.99,748.31 160.17,748.72 161.36,749.12 162.54,749.52 163.72,749.90 164.90,750.26 166.09,750.59 167.27,750.88 168.45,751.15 169.63,751.40 170.81,751.63 172.00,751.86 173.18,752.07 174.36,752.29 175.55,752.51 176.73,752.74 177.91,752.98 179.09,753.22 180.28,753.47 181.46,753.72 182.64,753.97 183.82,754.22 185.00,754.47 186.19,754.72 187.37,754.97 188.55,755.21 189.74,755.45 190.92,755.69 192.10,755.91 193.28,756.12 194.47,756.32 195.65,756.50 196.83,756.65 198.01,756.78 199.19,756.89 200.38,756.96 201.56,757.01 202.74,757.01 203.93,756.98 205.11,756.91 206.29,756.80 207.47,756.66 208.66,756.50 209.84,756.32 211.02,756.13 212.20,755.94 213.38,755.74 214.57,755.55 215.75,755.36 216.93,755.20 218.12,755.05 219.30,754.93 220.48,754.83 221.66,754.75 222.85,754.69 224.03,754.64 225.21,754.59 226.39,754.55 227.58,754.51 228.76,754.46 229.94,754.40 231.12,754.33 232.31,754.25 233.49,754.16 234.67,754.05 235.85,753.93 237.04,753.79 238.22,753.64 239.40,753.48 240.58,753.30 241.77,753.11 242.95,752.90 244.13,752.69 245.31,752.46 246.50,752.22 247.68,751.98 248.86,751.74 250.04,751.49 251.23,751.25 252.41,751.01 253.59,750.78 254.77,750.56 255.96,750.35 257.14,750.15 258.32,749.97 259.50,749.79 260.69,749.64 261.87,749.49 263.05,749.36 264.23,749.23 265.42,749.11 266.60,749.00 267.78,748.90 268.96,748.81 270.15,748.72 271.33,748.63 272.51,748.55 273.69,748.47 274.88,748.40 276.06,748.32 277.24,748.25 278.42,748.17 279.61,748.10 280.79,748.02 281.97,747.94 283.15,747.86 284.34,747.78 285.52,747.70 286.70,747.63 287.88,747.56 289.06,747.49 290.25,747.43 291.43,747.38 292.61,747.34 293.80,747.31 294.98,747.28 296.16,747.28 297.34,747.28 298.53,747.29 299.71,747.31 300.89,747.34 302.07,747.38 303.26,747.42 304.44,747.46 305.62,747.52 306.80,747.57 307.99,747.63 309.17,747.69 310.35,747.74 311.53,747.80 312.72,747.86 313.90,747.91 315.08,747.96 316.26,748.01 317.44,748.05 318.63,748.09 319.81,748.12 320.99,748.14 322.18,748.15 323.36,748.16 324.54,748.16 325.72,748.16 326.91,748.15 328.09,748.13 329.27,748.10 330.45,748.07 331.63,748.03 332.82,747.99 334.00,747.93 335.18,747.87 336.37,747.80 337.55,747.73 338.73,747.65 339.91,747.56 341.10,747.46 342.28,747.36 343.46,747.27 344.64,747.17 345.82,747.07 347.01,746.97 348.19,746.88 349.37,746.80 350.56,746.72 351.74,746.65 352.92,746.60 354.10,746.55 355.29,746.52 356.47,746.51 357.65,746.51 358.83,746.53 360.02,746.56 361.20,746.60 362.38,746.65 363.56,746.71 364.75,746.78 365.93,746.86 367.11,746.94 368.29,747.03 369.48,747.12 370.66,747.22 371.60,747.29" fill="none" stroke="#f0b830" stroke-width="1.1" stroke-linejoin="round"/>
<path d="M52.57,818.43L56.57,825.53L48.57,825.53Z" fill="none" stroke="#f0b830" stroke-width="1.1" stroke-linejoin="miter"/>
<path d="M90.41,754.04L94.41,761.14L86.41,761.14Z" fill="none" stroke="#f0b830" stroke-width="1.1" stroke-linejoin="miter"/>
<path d="M128.25,747.51L132.25,754.61L124.25,754.61Z" fill="none" stroke="#f0b830" stroke-width="1.1" stroke-linejoin="miter"/>
<path d="M166.09,746.07L170.09,753.17L162.09,753.17Z" fill="none" stroke="#f0b830" stroke-width="1.1" stroke-linejoin="miter"/>
<path d="M203.93,752.46L207.93,759.56L199.93,759.56Z" fill="none" stroke="#f0b830" stroke-width="1.1" stroke-linejoin="miter"/>
<path d="M241.77,748.61L245.77,755.71L237.77,755.71Z" fill="none" stroke="#f0b830" stroke-width="1.1" stroke-linejoin="miter"/>
<path d="M279.61,743.61L283.61,750.71L275.61,750.71Z" fill="none" stroke="#f0b830" stroke-width="1.1" stroke-linejoin="miter"/>
<path d="M317.44,743.55L321.44,750.65L313.44,750.65Z" fill="none" stroke="#f0b830" stroke-width="1.1" stroke-linejoin="miter"/>
<path d="M355.29,742.05L359.29,749.15L351.29,749.15Z" fill="none" stroke="#f0b830" stroke-width="1.1" stroke-linejoin="miter"/>
<path d="M52.57,812.33 53.75,810.96 54.93,809.61 56.11,808.29 57.30,807.01 58.48,805.80 59.66,804.66 60.84,803.61 62.03,802.67 63.21,801.86 64.39,801.17 65.57,800.61 66.75,800.15 67.94,799.77 69.12,799.47 70.30,799.22 71.49,799.01 72.67,798.82 73.85,798.65 75.03,798.48 76.22,798.31 77.40,798.13 78.58,797.93 79.76,797.70 80.95,797.45 82.13,797.15 83.31,796.81 84.49,796.44 85.68,796.05 86.86,795.66 88.04,795.25 89.22,794.86 90.41,794.49 91.59,794.13 92.77,793.80 93.95,793.48 95.14,793.17 96.32,792.87 97.50,792.56 98.68,792.24 99.87,791.90 101.05,791.55 102.23,791.17 103.41,790.79 104.59,790.40 105.78,790.00 106.96,789.60 108.14,789.21 109.33,788.83 110.51,788.45 111.69,788.09 112.87,787.73 114.06,787.39 115.24,787.05 116.42,786.72 117.60,786.40 118.79,786.08 119.97,785.77 121.15,785.47 122.33,785.17 123.52,784.87 124.70,784.57 125.88,784.28 127.06,783.98 128.25,783.68 129.43,783.38 130.61,783.08 131.79,782.77 132.98,782.46 134.16,782.14 135.34,781.82 136.52,781.49 137.71,781.16 138.89,780.81 140.07,780.46 141.25,780.10 142.44,779.74 143.62,779.36 144.80,778.97 145.98,778.57 147.17,778.17 148.35,777.76 149.53,777.34 150.71,776.92 151.90,776.50 153.08,776.07 154.26,775.64 155.44,775.21 156.62,774.78 157.81,774.36 158.99,773.93 160.17,773.51 161.36,773.09 162.54,772.66 163.72,772.23 164.90,771.79 166.09,771.34 167.27,770.88 168.45,770.40 169.63,769.91 170.81,769.41 172.00,768.89 173.18,768.36 174.36,767.81 175.55,767.25 176.73,766.68 177.91,766.09 179.09,765.48 180.28,764.86 181.46,764.23 182.64,763.58 183.82,762.92 185.00,762.25 186.19,761.60 187.37,760.95 188.55,760.33 189.74,759.74 190.92,759.19 192.10,758.69 193.28,758.24 194.47,757.85 195.65,757.52 196.83,757.25 198.01,757.02 199.19,756.83 200.38,756.67 201.56,756.55 202.74,756.44 203.93,756.34 205.11,756.26 206.29,756.18 207.47,756.10 208.66,756.03 209.84,755.97 211.02,755.92 212.20,755.87 213.38,755.82 214.57,755.78 215.75,755.75 216.93,755.72 218.12,755.70 219.30,755.68 220.48,755.66 221.66,755.63 222.85,755.60 224.03,755.56 225.21,755.51 226.39,755.43 227.58,755.33 228.76,755.21 229.94,755.05 231.12,754.86 232.31,754.65 233.49,754.43 234.67,754.21 235.85,754.02 237.04,753.85 238.22,753.73 239.40,753.66 240.58,753.67 241.77,753.76 242.95,753.94 244.13,754.21 245.31,754.56 246.50,754.97 247.68,755.44 248.86,755.96 250.04,756.51 251.23,757.09 252.41,757.69 253.59,758.29 254.77,758.89 255.96,759.48 257.14,760.04 258.32,760.57 259.50,761.08 260.69,761.57 261.87,762.03 263.05,762.48 264.23,762.90 265.42,763.32 266.60,763.71 267.78,764.10 268.96,764.48 270.15,764.84 271.33,765.19 272.51,765.52 273.69,765.84 274.88,766.13 276.06,766.41 277.24,766.66 278.42,766.88 279.61,767.07 280.79,767.23 281.97,767.37 283.15,767.47 284.34,767.56 285.52,767.64 286.70,767.70 287.88,767.77 289.06,767.84 290.25,767.92 291.43,768.01 292.61,768.12 293.80,768.27 294.98,768.44 296.16,768.65 297.34,768.89 298.53,769.16 299.71,769.46 300.89,769.78 302.07,770.12 303.26,770.47 304.44,770.84 305.62,771.21 306.80,771.59 307.99,771.98 309.17,772.37 310.35,772.75 311.53,773.13 312.72,773.50 313.90,773.86 315.08,774.20 316.26,774.53 317.44,774.84 318.63,775.13 319.81,775.40 320.99,775.64 322.18,775.87 323.36,776.09 324.54,776.29 325.72,776.48 326.91,776.67 328.09,776.85 329.27,777.03 330.45,777.21 331.63,777.39 332.82,777.57 334.00,777.76 335.18,777.94 336.37,778.13 337.55,778.33 338.73,778.52 339.91,778.72 341.10,778.93 342.28,779.14 343.46,779.36 344.64,779.58 345.82,779.81 347.01,780.05 348.19,780.30 349.37,780.56 350.56,780.83 351.74,781.11 352.92,781.41 354.10,781.73 355.29,782.06 356.47,782.42 357.65,782.79 358.83,783.17 360.02,783.57 361.20,783.99 362.38,784.42 363.56,784.86 364.75,785.30 365.93,785.76 367.11,786.22 368.29,786.69 369.48,787.16 370.66,787.64 371.60,788.02" fill="none" stroke="#f0b830" stroke-width="1.1" stroke-linejoin="round"/>
<path d="M48.97,812.33L56.17,812.33M50.02,809.78L55.11,814.87M52.57,808.73L52.57,815.93M55.11,809.78L50.02,814.87" stroke="#f0b830" stroke-width="1"/>
<path d="M86.81,794.49L94.00,794.49M87.86,791.94L92.95,797.03M90.41,790.89L90.41,798.09M92.95,791.94L87.86,797.03" stroke="#f0b830" stroke-width="1"/>
<path d="M124.65,783.68L131.84,783.68M125.70,781.14L130.79,786.23M128.25,780.08L128.25,787.28M130.79,781.14L125.70,786.23" stroke="#f0b830" stroke-width="1"/>
<path d="M162.49,771.34L169.69,771.34M163.54,768.80L168.63,773.89M166.09,767.74L166.09,774.94M168.63,768.80L163.54,773.89" stroke="#f0b830" stroke-width="1"/>
<path d="M200.33,756.34L207.53,756.34M201.38,753.80L206.47,758.89M203.93,752.74L203.93,759.94M206.47,753.80L201.38,758.89" stroke="#f0b830" stroke-width="1"/>
<path d="M238.17,753.76L245.37,753.76M239.22,751.21L244.31,756.30M241.77,750.16L241.77,757.36M244.31,751.21L239.22,756.30" stroke="#f0b830" stroke-width="1"/>
<path d="M276.00,766.97L283.21,766.97M277.06,764.43L282.15,769.52M279.61,763.37L279.61,770.57M282.15,764.43L277.06,769.52" stroke="#f0b830" stroke-width="1"/>
<path d="M313.84,774.82L321.05,774.82M314.90,772.27L319.99,777.36M317.44,771.22L317.44,778.42M319.99,772.27L314.90,777.36" stroke="#f0b830" stroke-width="1"/>
<path d="M351.69,782.09L358.89,782.09M352.74,779.55L357.83,784.64M355.29,778.49L355.29,785.69M357.83,779.55L352.74,784.64" stroke="#f0b830" stroke-width="1"/>
<path d="M52.57,787.25 53.75,787.79 54.93,788.33 56.11,788.86 57.30,789.37 58.48,789.85 59.66,790.29 60.84,790.70 62.03,791.06 63.21,791.36 64.39,791.61 65.57,791.79 66.75,791.90 67.94,791.94 69.12,791.90 70.30,791.78 71.49,791.57 72.67,791.29 73.85,790.92 75.03,790.48 76.22,789.96 77.40,789.37 78.58,788.72 79.76,788.05 80.95,787.37 82.13,786.71 83.31,786.08 84.49,785.50 85.68,784.92 86.86,784.26 88.04,783.47 89.22,782.47 90.41,781.19 91.59,779.57 92.77,777.63 93.95,775.49 95.14,773.28 96.32,771.13 97.50,769.16 98.68,767.46 99.87,765.99 101.05,764.69 102.23,763.53 103.41,762.44 104.59,761.37 105.78,760.27 106.96,759.09 108.14,757.84 109.33,756.61 110.51,755.46 111.69,754.49 112.87,753.72 114.06,753.11 115.24,752.64 116.42,752.26 117.60,751.95 118.79,751.68 119.97,751.41 121.15,751.12 122.33,750.76 123.52,750.33 124.70,749.83 125.88,749.28 127.06,748.69 128.25,748.07 129.43,747.42 130.61,746.76 131.79,746.10 132.98,745.45 134.16,744.82 135.34,744.23 136.52,743.67 137.71,743.17 138.89,742.71 140.07,742.31 141.25,741.96 142.44,741.65 143.62,741.39 144.80,741.17 145.98,741.00 147.17,740.86 148.35,740.77 149.53,740.71 150.71,740.70 151.90,740.71 153.08,740.76 154.26,740.84 155.44,740.94 156.62,741.06 157.81,741.20 158.99,741.35 160.17,741.51 161.36,741.68 162.54,741.84 163.72,742.01 164.90,742.16 166.09,742.30 167.27,742.44 168.45,742.58 169.63,742.72 170.81,742.89 172.00,743.08 173.18,743.32 174.36,743.61 175.55,743.95 176.73,744.34 177.91,744.77 179.09,745.21 180.28,745.65 181.46,746.07 182.64,746.47 183.82,746.81 185.00,747.09 186.19,747.29 187.37,747.40 188.55,747.41 189.74,747.34 190.92,747.19 192.10,746.97 193.28,746.67 194.47,746.32 195.65,745.90 196.83,745.44 198.01,744.93 199.19,744.38 200.38,743.79 201.56,743.18 202.74,742.54 203.93,741.88 205.11,741.22 206.29,740.55 207.47,739.88 208.66,739.21 209.84,738.56 211.02,737.93 212.20,737.33 213.38,736.75 214.57,736.21 215.75,735.72 216.93,735.27 218.12,734.88 219.30,734.55 220.48,734.27 221.66,734.05 222.85,733.88 224.03,733.75 225.21,733.67 226.39,733.63 227.58,733.63 228.76,733.66 229.94,733.71 231.12,733.80 232.31,733.91 233.49,734.03 234.67,734.18 235.85,734.34 237.04,734.51 238.22,734.69 239.40,734.88 240.58,735.07 241.77,735.26 242.95,735.45 244.13,735.64 245.31,735.82 246.50,735.98 247.68,736.14 248.86,736.28 250.04,736.40 251.23,736.50 252.41,736.58 253.59,736.65 254.77,736.71 255.96,736.76 257.14,736.80 258.32,736.84 259.50,736.87 260.69,736.89 261.87,736.92 263.05,736.95 264.23,736.98 265.42,737.01 266.60,737.05 267.78,737.09 268.96,737.14 270.15,737.20 271.33,737.27 272.51,737.34 273.69,737.43 274.88,737.52 276.06,737.63 277.24,737.75 278.42,737.88 279.61,738.03 280.79,738.19 281.97,738.37 283.15,738.56 284.34,738.77 285.52,739.00 286.70,739.25 287.88,739.52 289.06,739.81 290.25,740.11 291.43,740.44 292.61,740.79 293.80,741.15 294.98,741.53 296.16,741.93 297.34,742.33 298.53,742.75 299.71,743.17 300.89,743.60 302.07,744.04 303.26,744.48 304.44,744.91 305.62,745.35 306.80,745.79 307.99,746.22 309.17,746.65 310.35,747.07 311.53,747.48 312.72,747.88 313.90,748.27 315.08,748.65 316.26,749.02 317.44,749.37 318.63,749.71 319.81,750.02 320.99,750.32 322.18,750.60 323.36,750.86 324.54,751.10 325.72,751.31 326.91,751.51 328.09,751.70 329.27,751.87 330.45,752.03 331.63,752.19 332.82,752.34 334.00,752.50 335.18,752.66 336.37,752.82 337.55,753.00 338.73,753.19 339.91,753.39 341.10,753.62 342.28,753.88 343.46,754.17 344.64,754.50 345.82,754.88 347.01,755.31 348.19,755.81 349.37,756.36 350.56,756.99 351.74,757.68 352.92,758.41 354.10,759.15 355.29,759.88 356.47,760.57 357.65,761.20 358.83,761.74 360.02,762.16 361.20,762.45 362.38,762.61 363.56,762.66 364.75,762.61 365.93,762.47 367.11,762.27 368.29,762.02 369.48,761.72 370.66,761.39 371.60,761.13" fill="none" stroke="#b8d070" stroke-width="1.1" stroke-dasharray="1.5 2" stroke-linejoin="round"/>
<path d="M52.57,769.14 53.75,769.91 54.93,770.66 56.11,771.41 57.30,772.14 58.48,772.86 59.66,773.54 60.84,774.20 62.03,774.82 63.21,775.40 64.39,775.95 65.57,776.49 66.75,777.00 67.94,777.51 69.12,778.02 70.30,778.53 71.49,779.05 72.67,779.55 73.85,780.03 75.03,780.47 76.22,780.85 77.40,781.17 78.58,781.40 79.76,781.56 80.95,781.66 82.13,781.71 83.31,781.71 84.49,781.68 85.68,781.63 86.86,781.56 88.04,781.50 89.22,781.45 90.41,781.42 91.59,781.41 92.77,781.42 93.95,781.44 95.14,781.47 96.32,781.51 97.50,781.53 98.68,781.55 99.87,781.56 101.05,781.54 102.23,781.50 103.41,781.45 104.59,781.37 105.78,781.29 106.96,781.18 108.14,781.07 109.33,780.94 110.51,780.80 111.69,780.65 112.87,780.49 114.06,780.28 115.24,780.00 116.42,779.60 117.60,779.06 118.79,778.32 119.97,777.39 121.15,776.32 122.33,775.18 123.52,774.06 124.70,773.01 125.88,772.05 127.06,771.16 128.25,770.33 129.43,769.53 130.61,768.77 131.79,768.02 132.98,767.27 134.16,766.51 135.34,765.74 136.52,764.97 137.71,764.20 138.89,763.45 140.07,762.74 141.25,762.06 142.44,761.44 143.62,760.88 144.80,760.39 145.98,759.99 147.17,759.68 148.35,759.47 149.53,759.36 150.71,759.35 151.90,759.46 153.08,759.68 154.26,760.00 155.44,760.40 156.62,760.86 157.81,761.34 158.99,761.81 160.17,762.24 161.36,762.64 162.54,763.00 163.72,763.36 164.90,763.73 166.09,764.14 167.27,764.60 168.45,765.10 169.63,765.61 170.81,766.14 172.00,766.66 173.18,767.16 174.36,767.63 175.55,768.06 176.73,768.44 177.91,768.77 179.09,769.06 180.28,769.29 181.46,769.48 182.64,769.62 183.82,769.71 185.00,769.76 186.19,769.75 187.37,769.69 188.55,769.59 189.74,769.43 190.92,769.23 192.10,768.97 193.28,768.67 194.47,768.31 195.65,767.91 196.83,767.47 198.01,766.97 199.19,766.43 200.38,765.85 201.56,765.22 202.74,764.54 203.93,763.82 205.11,763.06 206.29,762.27 207.47,761.45 208.66,760.62 209.84,759.78 211.02,758.94 212.20,758.12 213.38,757.31 214.57,756.53 215.75,755.79 216.93,755.10 218.12,754.46 219.30,753.89 220.48,753.39 221.66,752.97 222.85,752.65 224.03,752.42 225.21,752.30 226.39,752.29 227.58,752.40 228.76,752.62 229.94,752.94 231.12,753.37 232.31,753.90 233.49,754.53 234.67,755.27 235.85,756.09 237.04,757.00 238.22,757.99 239.40,759.05 240.58,760.17 241.77,761.35 242.95,762.57 244.13,763.83 245.31,765.13 246.50,766.43 247.68,767.74 248.86,769.02 250.04,770.27 251.23,771.47 252.41,772.60 253.59,773.66 254.77,774.61 255.96,775.45 257.14,776.18 258.32,776.79 259.50,777.31 260.69,777.73 261.87,778.06 263.05,778.31 264.23,778.48 265.42,778.58 266.60,778.63 267.78,778.62 268.96,778.56 270.15,778.48 271.33,778.37 272.51,778.25 273.69,778.13 274.88,778.01 276.06,777.91 277.24,777.83 278.42,777.79 279.61,777.79 280.79,777.85 281.97,777.95 283.15,778.11 284.34,778.29 285.52,778.50 286.70,778.73 287.88,778.97 289.06,779.20 290.25,779.43 291.43,779.63 292.61,779.81 293.80,779.94 294.98,780.03 296.16,780.07 297.34,780.06 298.53,780.00 299.71,779.88 300.89,779.72 302.07,779.50 303.26,779.24 304.44,778.92 305.62,778.55 306.80,778.14 307.99,777.67 309.17,777.16 310.35,776.60 311.53,775.98 312.72,775.29 313.90,774.54 315.08,773.71 316.26,772.79 317.44,771.77 318.63,770.66 319.81,769.46 320.99,768.21 322.18,766.93 323.36,765.65 324.54,764.40 325.72,763.21 326.91,762.11 328.09,761.13 329.27,760.29 330.45,759.62 331.63,759.12 332.82,758.83 334.00,758.74 335.18,758.87 336.37,759.25 337.55,759.84 338.73,760.61 339.91,761.53 341.10,762.56 342.28,763.67 343.46,764.82 344.64,765.99 345.82,767.15 347.01,768.30 348.19,769.46 349.37,770.63 350.56,771.82 351.74,773.01 352.92,774.18 354.10,775.28 355.29,776.28 356.47,777.16 357.65,777.88 358.83,778.44 360.02,778.86 361.20,779.14 362.38,779.31 363.56,779.36 364.75,779.31 365.93,779.18 367.11,778.97 368.29,778.71 369.48,778.41 370.66,778.08 371.60,777.81" fill="none" stroke="#5cc3ec" stroke-width="1.1" stroke-dasharray="6 2.8 1.2 2.8" stroke-linejoin="round"/>
</g>
<rect x="41.0" y="662.3" width="341.0" height="233.0" fill="none" stroke="#555555" stroke-width="1.3"/>
<line x1="50.20" y1="895.3" x2="50.20" y2="892.0" stroke="#555555" stroke-width="1"/>
<line x1="50.20" y1="662.3" x2="50.20" y2="665.5999999999999" stroke="#555555" stroke-width="1"/>
<text x="50.20" y="911.3" font-size="10.5" text-anchor="middle" class="s">0</text>
<line x1="97.50" y1="895.3" x2="97.50" y2="892.0" stroke="#555555" stroke-width="1"/>
<line x1="97.50" y1="662.3" x2="97.50" y2="665.5999999999999" stroke="#555555" stroke-width="1"/>
<text x="97.50" y="911.3" font-size="10.5" text-anchor="middle" class="s">20</text>
<line x1="144.80" y1="895.3" x2="144.80" y2="892.0" stroke="#555555" stroke-width="1"/>
<line x1="144.80" y1="662.3" x2="144.80" y2="665.5999999999999" stroke="#555555" stroke-width="1"/>
<text x="144.80" y="911.3" font-size="10.5" text-anchor="middle" class="s">40</text>
<line x1="192.10" y1="895.3" x2="192.10" y2="892.0" stroke="#555555" stroke-width="1"/>
<line x1="192.10" y1="662.3" x2="192.10" y2="665.5999999999999" stroke="#555555" stroke-width="1"/>
<text x="192.10" y="911.3" font-size="10.5" text-anchor="middle" class="s">60</text>
<line x1="239.40" y1="895.3" x2="239.40" y2="892.0" stroke="#555555" stroke-width="1"/>
<line x1="239.40" y1="662.3" x2="239.40" y2="665.5999999999999" stroke="#555555" stroke-width="1"/>
<text x="239.40" y="911.3" font-size="10.5" text-anchor="middle" class="s">80</text>
<line x1="286.70" y1="895.3" x2="286.70" y2="892.0" stroke="#555555" stroke-width="1"/>
<line x1="286.70" y1="662.3" x2="286.70" y2="665.5999999999999" stroke="#555555" stroke-width="1"/>
<text x="286.70" y="911.3" font-size="10.5" text-anchor="middle" class="s">100</text>
<line x1="334.00" y1="895.3" x2="334.00" y2="892.0" stroke="#555555" stroke-width="1"/>
<line x1="334.00" y1="662.3" x2="334.00" y2="665.5999999999999" stroke="#555555" stroke-width="1"/>
<text x="334.00" y="911.3" font-size="10.5" text-anchor="middle" class="s">120</text>
<line x1="381.30" y1="895.3" x2="381.30" y2="892.0" stroke="#555555" stroke-width="1"/>
<line x1="381.30" y1="662.3" x2="381.30" y2="665.5999999999999" stroke="#555555" stroke-width="1"/>
<text x="381.30" y="911.3" font-size="10.5" text-anchor="middle" class="s">140</text>
<line x1="41.0" y1="895.34" x2="44.3" y2="895.34" stroke="#555555" stroke-width="1"/>
<line x1="382.0" y1="895.34" x2="378.7" y2="895.34" stroke="#555555" stroke-width="1"/>
<text x="36.0" y="900.24" font-size="10.5" text-anchor="end" class="s">-8</text>
<line x1="41.0" y1="869.48" x2="44.3" y2="869.48" stroke="#555555" stroke-width="1"/>
<line x1="382.0" y1="869.48" x2="378.7" y2="869.48" stroke="#555555" stroke-width="1"/>
<text x="36.0" y="874.38" font-size="10.5" text-anchor="end" class="s">-6</text>
<line x1="41.0" y1="843.62" x2="44.3" y2="843.62" stroke="#555555" stroke-width="1"/>
<line x1="382.0" y1="843.62" x2="378.7" y2="843.62" stroke="#555555" stroke-width="1"/>
<text x="36.0" y="848.52" font-size="10.5" text-anchor="end" class="s">-4</text>
<line x1="41.0" y1="817.76" x2="44.3" y2="817.76" stroke="#555555" stroke-width="1"/>
<line x1="382.0" y1="817.76" x2="378.7" y2="817.76" stroke="#555555" stroke-width="1"/>
<text x="36.0" y="822.66" font-size="10.5" text-anchor="end" class="s">-2</text>
<line x1="41.0" y1="791.90" x2="44.3" y2="791.90" stroke="#555555" stroke-width="1"/>
<line x1="382.0" y1="791.90" x2="378.7" y2="791.90" stroke="#555555" stroke-width="1"/>
<text x="36.0" y="796.80" font-size="10.5" text-anchor="end" class="s">0</text>
<line x1="41.0" y1="766.04" x2="44.3" y2="766.04" stroke="#555555" stroke-width="1"/>
<line x1="382.0" y1="766.04" x2="378.7" y2="766.04" stroke="#555555" stroke-width="1"/>
<text x="36.0" y="770.94" font-size="10.5" text-anchor="end" class="s">2</text>
<line x1="41.0" y1="740.18" x2="44.3" y2="740.18" stroke="#555555" stroke-width="1"/>
<line x1="382.0" y1="740.18" x2="378.7" y2="740.18" stroke="#555555" stroke-width="1"/>
<text x="36.0" y="745.08" font-size="10.5" text-anchor="end" class="s">4</text>
<line x1="41.0" y1="714.32" x2="44.3" y2="714.32" stroke="#555555" stroke-width="1"/>
<line x1="382.0" y1="714.32" x2="378.7" y2="714.32" stroke="#555555" stroke-width="1"/>
<text x="36.0" y="719.22" font-size="10.5" text-anchor="end" class="s">6</text>
<line x1="41.0" y1="688.46" x2="44.3" y2="688.46" stroke="#555555" stroke-width="1"/>
<line x1="382.0" y1="688.46" x2="378.7" y2="688.46" stroke="#555555" stroke-width="1"/>
<text x="36.0" y="693.36" font-size="10.5" text-anchor="end" class="s">8</text>
<line x1="41.0" y1="662.60" x2="44.3" y2="662.60" stroke="#555555" stroke-width="1"/>
<line x1="382.0" y1="662.60" x2="378.7" y2="662.60" stroke="#555555" stroke-width="1"/>
<text x="36.0" y="667.50" font-size="10.5" text-anchor="end" class="s">10</text>
<text x="210.70" y="656.7" font-size="12.3" font-weight="bold" text-anchor="middle" class="s">Cluster 3</text>
<text x="211.50" y="927.2" font-size="12.25" text-anchor="middle" class="s">Day</text>
<text transform="translate(17.6,778.80) rotate(-90)" x="0" y="0" font-size="12.25" text-anchor="middle" class="s">CNC per million people</text>
<rect x="389.0" y="44.0" width="152.39999999999998" height="189.2" fill="#fff" stroke="#555555" stroke-width="1"/>
<line x1="389.0" y1="63.8" x2="541.4" y2="63.8" stroke="#555555" stroke-width="1"/>
<text x="465.20" y="58.30" font-size="10" font-weight="bold" text-anchor="middle" class="s">Countries in Cluster 1</text>
<path d="M392.4,74.60L425.7,74.60" fill="none" stroke="#4a94d4" stroke-width="1.6" stroke-dasharray="8.5 5" stroke-linejoin="round"/>
<text x="428.5" y="78.60" font-size="10" class="s">South Africa</text>
<path d="M392.4,91.17L425.7,91.17" fill="none" stroke="#5cc3ec" stroke-width="1.1" stroke-dasharray="8.5 5" stroke-linejoin="round"/>
<text x="428.5" y="95.17" font-size="10" class="s">United States of America</text>
<path d="M392.4,107.74L425.7,107.74" fill="none" stroke="#b0203c" stroke-width="1.1" stroke-dasharray="8.5 5" stroke-linejoin="round"/>
<circle cx="409.05" cy="107.74" r="1.6" fill="#b0203c"/>
<text x="428.5" y="111.74" font-size="10" class="s">Brazil</text>
<path d="M392.4,124.31L425.7,124.31" fill="none" stroke="#edb120" stroke-width="1.1" stroke-dasharray="8.5 5" stroke-linejoin="round"/>
<circle cx="409.05" cy="124.31" r="1.6" fill="#edb120"/>
<text x="428.5" y="128.31" font-size="10" class="s">Mexico</text>
<path d="M392.4,140.88L425.7,140.88" fill="none" stroke="#c42a44" stroke-width="1.1" stroke-linejoin="round"/>
<path d="M409.05,136.38L413.05,143.48L405.05,143.48Z" fill="none" stroke="#c42a44" stroke-width="1.1" stroke-linejoin="miter"/>
<text x="428.5" y="144.88" font-size="10" class="s">Argentina</text>
<path d="M392.4,157.45L425.7,157.45" fill="none" stroke="#a468d0" stroke-width="1.15" stroke-linejoin="round"/>
<path d="M409.05,152.95L413.05,160.05L405.05,160.05Z" fill="none" stroke="#a468d0" stroke-width="1.1" stroke-linejoin="miter"/>
<text x="428.5" y="161.45" font-size="10" class="s">Pakistan</text>
<path d="M392.4,174.02L425.7,174.02" fill="none" stroke="#c42a44" stroke-width="1.1" stroke-linejoin="round"/>
<path d="M405.45,174.02L412.65,174.02M406.50,171.47L411.60,176.57M409.05,170.42L409.05,177.62M411.60,171.47L406.50,176.57" stroke="#c42a44" stroke-width="1"/>
<text x="428.5" y="178.02" font-size="10" class="s">United Arab Emirates</text>
<path d="M392.4,190.59L425.7,190.59" fill="none" stroke="#8a3aa8" stroke-width="1.1" stroke-linejoin="round"/>
<path d="M405.45,190.59L412.65,190.59M406.50,188.04L411.60,193.14M409.05,186.99L409.05,194.19M411.60,188.04L406.50,193.14" stroke="#8a3aa8" stroke-width="1"/>
<text x="428.5" y="194.59" font-size="10" class="s">Russian Federation</text>
<path d="M392.4,207.16L425.7,207.16" fill="none" stroke="#d44a5c" stroke-width="1.1" stroke-dasharray="6 2.8 1.2 2.8" stroke-linejoin="round"/>
<text x="428.5" y="211.16" font-size="10" class="s">India</text>
<path d="M392.4,223.73L425.7,223.73" fill="none" stroke="#7cb840" stroke-width="1.1" stroke-dasharray="6 2.8 1.2 2.8" stroke-linejoin="round"/>
<text x="428.5" y="227.73" font-size="10" class="s">Maldives</text>
<rect x="390.3" y="421.5" width="151.2" height="75.19999999999999" fill="#fff" stroke="#555555" stroke-width="1"/>
<line x1="390.3" y1="438.1" x2="541.5" y2="438.1" stroke="#555555" stroke-width="1"/>
<text x="465.90" y="434.20" font-size="10" font-weight="bold" text-anchor="middle" class="s">Countries in Cluster 2</text>
<path d="M418.4,447.00L451.2,447.00" fill="none" stroke="#c42a44" stroke-width="1.1" stroke-linejoin="round"/>
<text x="454.4" y="451.00" font-size="10" class="s">China</text>
<path d="M418.4,460.83L451.2,460.83" fill="none" stroke="#7cb840" stroke-width="1.1" stroke-linejoin="round"/>
<text x="454.4" y="464.83" font-size="10" class="s">Malaysia</text>
<path d="M418.4,474.66L451.2,474.66" fill="none" stroke="#c42a44" stroke-width="1.1" stroke-dasharray="8.5 5" stroke-linejoin="round"/>
<text x="454.4" y="478.66" font-size="10" class="s">New Zealand</text>
<path d="M418.4,488.49L451.2,488.49" fill="none" stroke="#9a4ad0" stroke-width="1.1" stroke-dasharray="6 2.8 1.2 2.8" stroke-linejoin="round"/>
<text x="454.4" y="492.49" font-size="10" class="s">Thailand</text>
<rect x="388.7" y="664.0" width="152.7" height="227.0" fill="#fff" stroke="#555555" stroke-width="1"/>
<line x1="388.7" y1="684.1" x2="541.4" y2="684.1" stroke="#555555" stroke-width="1"/>
<text x="465.05" y="678.45" font-size="10" font-weight="bold" text-anchor="middle" class="s">Countries in Cluster 3</text>
<path d="M392.4,694.90L425.7,694.90" fill="none" stroke="#3a8ad0" stroke-width="1.1" stroke-linejoin="round"/>
<text x="428.5" y="698.90" font-size="10" class="s">Singapore</text>
<path d="M392.4,711.79L425.7,711.79" fill="none" stroke="#e0703a" stroke-width="1.1" stroke-linejoin="round"/>
<text x="428.5" y="715.79" font-size="10" class="s">Philippines</text>
<path d="M392.4,728.68L425.7,728.68" fill="none" stroke="#f0b830" stroke-width="1.1" stroke-linejoin="round"/>
<text x="428.5" y="732.68" font-size="10" class="s">Japan</text>
<path d="M392.4,745.57L425.7,745.57" fill="none" stroke="#e0703a" stroke-width="1.1" stroke-dasharray="8.5 5" stroke-linejoin="round"/>
<text x="428.5" y="749.57" font-size="10" class="s">Nigeria</text>
<path d="M392.4,762.46L425.7,762.46" fill="none" stroke="#f0b830" stroke-width="1.1" stroke-dasharray="8.5 5" stroke-linejoin="round"/>
<text x="428.5" y="766.46" font-size="10" class="s">Algeria</text>
<path d="M392.4,779.35L425.7,779.35" fill="none" stroke="#a050c0" stroke-width="1.1" stroke-dasharray="8.5 5" stroke-linejoin="round"/>
<text x="428.5" y="783.35" font-size="10" class="s">Ghana</text>
<path d="M392.4,796.24L425.7,796.24" fill="none" stroke="#7cb840" stroke-width="1.1" stroke-dasharray="8.5 5" stroke-linejoin="round"/>
<text x="428.5" y="800.24" font-size="10" class="s">Cameroon</text>
<path d="M392.4,813.13L425.7,813.13" fill="none" stroke="#6aa830" stroke-width="1.1" stroke-dasharray="8.5 5" stroke-linejoin="round"/>
<circle cx="409.05" cy="813.13" r="1.6" fill="#6aa830"/>
<text x="428.5" y="817.13" font-size="10" class="s">Ecuador</text>
<path d="M392.4,830.02L425.7,830.02" fill="none" stroke="#f0b830" stroke-width="1.1" stroke-linejoin="round"/>
<path d="M409.05,825.52L413.05,832.62L405.05,832.62Z" fill="none" stroke="#f0b830" stroke-width="1.1" stroke-linejoin="miter"/>
<text x="428.5" y="834.02" font-size="10" class="s">Iran (Islamic Republic of)</text>
<path d="M392.4,846.91L425.7,846.91" fill="none" stroke="#f0b830" stroke-width="1.1" stroke-linejoin="round"/>
<path d="M405.45,846.91L412.65,846.91M406.50,844.36L411.60,849.46M409.05,843.31L409.05,850.51M411.60,844.36L406.50,849.46" stroke="#f0b830" stroke-width="1"/>
<text x="428.5" y="850.91" font-size="10" class="s">Afghanistan</text>
<path d="M392.4,863.80L425.7,863.80" fill="none" stroke="#b8d070" stroke-width="1.1" stroke-dasharray="1.5 2" stroke-linejoin="round"/>
<text x="428.5" y="867.80" font-size="10" class="s">Belarus</text>
<path d="M392.4,880.69L425.7,880.69" fill="none" stroke="#5cc3ec" stroke-width="1.1" stroke-dasharray="6 2.8 1.2 2.8" stroke-linejoin="round"/>
<text x="428.5" y="884.69" font-size="10" class="s">Sri Lanka</text>
<text x="267.6" y="315.0" font-size="14.5" class="r">(<tspan font-weight="bold">a</tspan>) Cluster 1.</text>
<text x="267.6" y="635.0" font-size="14.5" class="r">(<tspan font-weight="bold">b</tspan>) Cluster 2.</text>
<text x="267.6" y="955.0" font-size="14.5" class="r">(<tspan font-weight="bold">c</tspan>) Cluster 3.</text>
</svg>
</body></html>
